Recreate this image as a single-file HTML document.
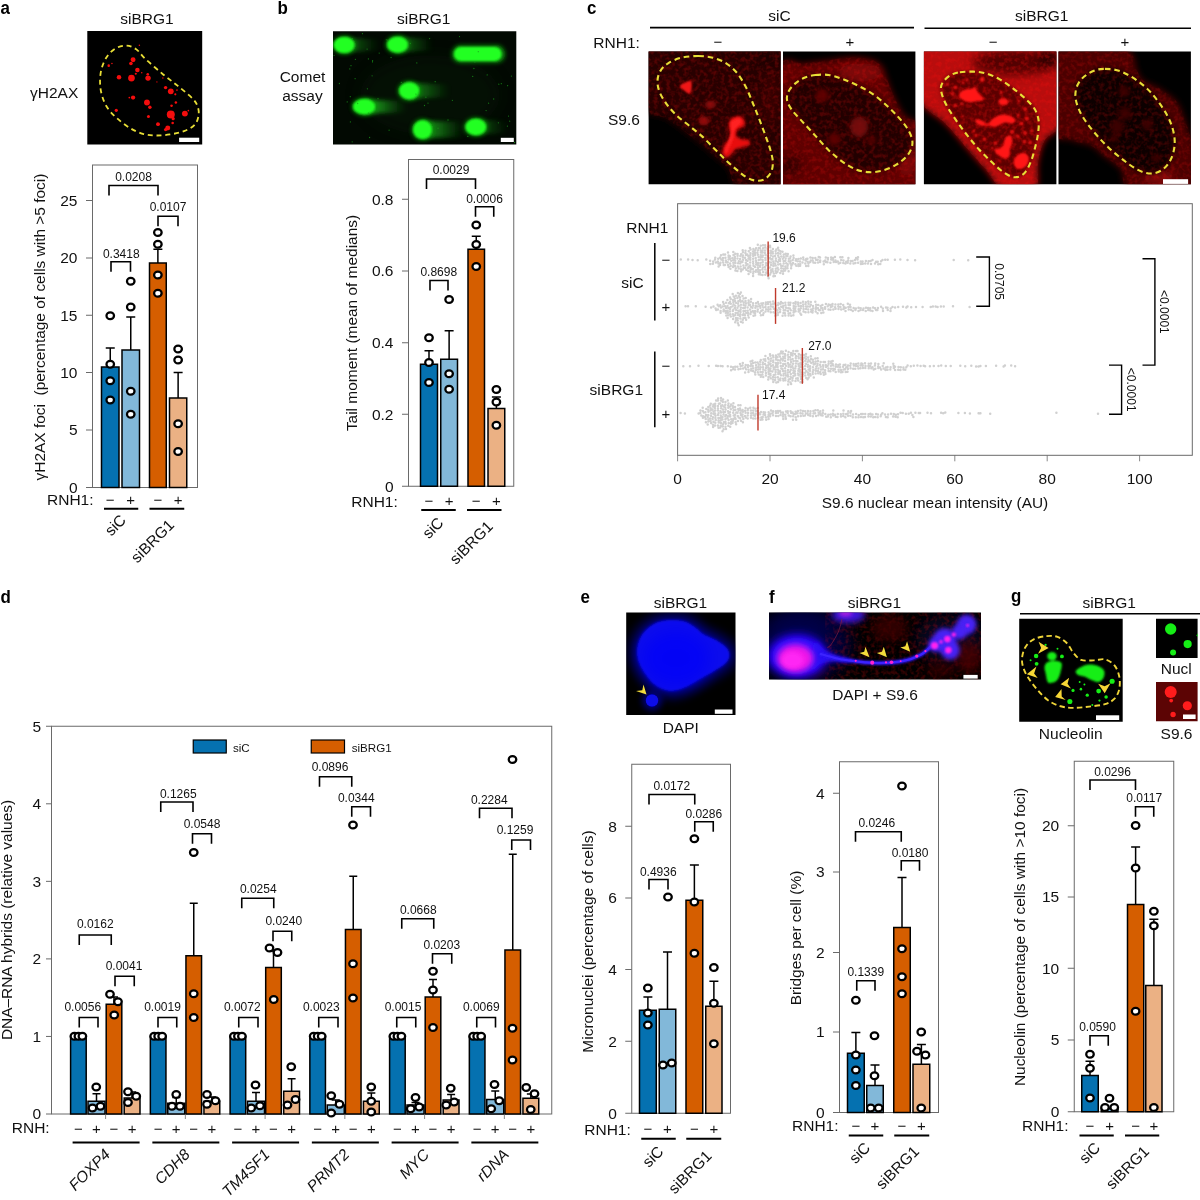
<!DOCTYPE html>
<html lang="en"><head><meta charset="utf-8"><title>Figure</title>
<style>
html,body{margin:0;padding:0;background:#fff}
svg{display:block}
text{font-family:"Liberation Sans",sans-serif;fill:#111}
.pl{font-weight:bold;fill:#000}
.it{font-style:italic}
.pts ellipse{fill:#fff;stroke:#000;stroke-width:2.3}
</style></head><body>
<svg width="1200" height="1200" viewBox="0 0 1200 1200">
<rect width="1200" height="1200" fill="#fff"/>
<text transform="translate(0.5 14) scale(0.9 1)" font-size="18.8" class="pl">a</text>
<text transform="translate(277.5 14) scale(0.9 1)" font-size="18.8" class="pl">b</text>
<text transform="translate(587 14) scale(0.9 1)" font-size="18.8" class="pl">c</text>
<text transform="translate(0.5 603) scale(0.9 1)" font-size="18.8" class="pl">d</text>
<text transform="translate(580.5 603) scale(0.9 1)" font-size="18.8" class="pl">e</text>
<text transform="translate(769 603) scale(0.9 1)" font-size="18.8" class="pl">f</text>
<text transform="translate(1011 601.5) scale(0.9 1)" font-size="18.8" class="pl">g</text>
<text x="147" y="24" font-size="15.5" text-anchor="middle">siBRG1</text>
<text x="30" y="97.5" font-size="15.5">γH2AX</text>
<rect x="92.5" y="165" width="105" height="322.5" fill="none" stroke="#6a6a6a" stroke-width="1"/>
<line x1="86" y1="487.5" x2="92.5" y2="487.5" stroke="#6a6a6a" stroke-width="1"/>
<text x="77.5" y="492.9" font-size="15.5" text-anchor="end">0</text>
<line x1="86" y1="430" x2="92.5" y2="430" stroke="#6a6a6a" stroke-width="1"/>
<text x="77.5" y="435.4" font-size="15.5" text-anchor="end">5</text>
<line x1="86" y1="372.5" x2="92.5" y2="372.5" stroke="#6a6a6a" stroke-width="1"/>
<text x="77.5" y="377.9" font-size="15.5" text-anchor="end">10</text>
<line x1="86" y1="315.25" x2="92.5" y2="315.25" stroke="#6a6a6a" stroke-width="1"/>
<text x="77.5" y="320.65" font-size="15.5" text-anchor="end">15</text>
<line x1="86" y1="258" x2="92.5" y2="258" stroke="#6a6a6a" stroke-width="1"/>
<text x="77.5" y="263.4" font-size="15.5" text-anchor="end">20</text>
<line x1="86" y1="200.5" x2="92.5" y2="200.5" stroke="#6a6a6a" stroke-width="1"/>
<text x="77.5" y="205.9" font-size="15.5" text-anchor="end">25</text>
<path d="M110.25 367V348M105.75 348H114.75" fill="none" stroke="#000" stroke-width="1.5"/>
<rect x="101.5" y="367" width="17.5" height="120.5" fill="#0571b0" stroke="#000" stroke-width="1.5"/>
<path d="M130.75 350V317M126.25 317H135.25" fill="none" stroke="#000" stroke-width="1.5"/>
<rect x="122" y="350" width="17.5" height="137.5" fill="#82b8d9" stroke="#000" stroke-width="1.5"/>
<path d="M157.88 263V249.25M153.38 249.25H162.38" fill="none" stroke="#000" stroke-width="1.5"/>
<rect x="149.5" y="263" width="16.75" height="224.5" fill="#d55e00" stroke="#000" stroke-width="1.5"/>
<path d="M178.12 398V372.5M173.62 372.5H182.62" fill="none" stroke="#000" stroke-width="1.5"/>
<rect x="169.5" y="398" width="17.25" height="89.5" fill="#ebb184" stroke="#000" stroke-width="1.5"/>
<g class="pts">
<ellipse cx="110.25" cy="315.75" rx="3.75" ry="3.45"/>
<ellipse cx="110.25" cy="364.25" rx="3.75" ry="3.45"/>
<ellipse cx="110.25" cy="380.75" rx="3.75" ry="3.45"/>
<ellipse cx="110.25" cy="400" rx="3.75" ry="3.45"/>
<ellipse cx="130.75" cy="281.25" rx="3.75" ry="3.45"/>
<ellipse cx="130.75" cy="307" rx="3.75" ry="3.45"/>
<ellipse cx="130.75" cy="391.25" rx="3.75" ry="3.45"/>
<ellipse cx="130.75" cy="414.25" rx="3.75" ry="3.45"/>
<ellipse cx="157.88" cy="232.5" rx="3.75" ry="3.45"/>
<ellipse cx="157.88" cy="244.25" rx="3.75" ry="3.45"/>
<ellipse cx="157.88" cy="275" rx="3.75" ry="3.45"/>
<ellipse cx="157.88" cy="293.25" rx="3.75" ry="3.45"/>
<ellipse cx="178.12" cy="349" rx="3.75" ry="3.45"/>
<ellipse cx="178.12" cy="360" rx="3.75" ry="3.45"/>
<ellipse cx="178.12" cy="423.75" rx="3.75" ry="3.45"/>
<ellipse cx="178.12" cy="451.5" rx="3.75" ry="3.45"/>
</g>
<path d="M109 195.5V185.5H158V195.5" fill="none" stroke="#000" stroke-width="1.6"/>
<text x="133.5" y="181" font-size="12" text-anchor="middle">0.0208</text>
<path d="M158 226.25V216.25H178V226.25" fill="none" stroke="#000" stroke-width="1.6"/>
<text x="168" y="210.5" font-size="12" text-anchor="middle">0.0107</text>
<path d="M111 271.75V261.75H130.5V271.75" fill="none" stroke="#000" stroke-width="1.6"/>
<text x="121.25" y="258" font-size="12" text-anchor="middle">0.3418</text>
<text x="47" y="505" font-size="15.5">RNH1:</text>
<text x="110.25" y="504.5" font-size="15" text-anchor="middle">−</text>
<text x="130.75" y="504.5" font-size="15" text-anchor="middle">+</text>
<text x="157.88" y="504.5" font-size="15" text-anchor="middle">−</text>
<text x="178.12" y="504.5" font-size="15" text-anchor="middle">+</text>
<line x1="104" y1="508.75" x2="138.25" y2="508.75" stroke="#000" stroke-width="2"/>
<line x1="149.5" y1="508.75" x2="184.25" y2="508.75" stroke="#000" stroke-width="2"/>
<text x="127" y="521" font-size="15.5" text-anchor="end" transform="rotate(-45 127 521)">siC</text>
<text x="175" y="526" font-size="15.5" text-anchor="end" transform="rotate(-45 175 526)">siBRG1</text>
<text x="45" y="327" font-size="15.45" text-anchor="middle" transform="rotate(-90 45 327)">γH2AX foci  (percentage of cells with &gt;5 foci)</text>
<text x="423.75" y="24" font-size="15.5" text-anchor="middle">siBRG1</text>
<text x="302.5" y="82" font-size="15.5" text-anchor="middle">Comet</text>
<text x="302.5" y="100.75" font-size="15.5" text-anchor="middle">assay</text>
<rect x="408.5" y="159.5" width="105.25" height="326.75" fill="none" stroke="#6a6a6a" stroke-width="1"/>
<line x1="402" y1="486.25" x2="408.5" y2="486.25" stroke="#6a6a6a" stroke-width="1"/>
<text x="393.5" y="491.65" font-size="15.5" text-anchor="end">0</text>
<line x1="402" y1="414.25" x2="408.5" y2="414.25" stroke="#6a6a6a" stroke-width="1"/>
<text x="393.5" y="419.65" font-size="15.5" text-anchor="end">0.2</text>
<line x1="402" y1="342.75" x2="408.5" y2="342.75" stroke="#6a6a6a" stroke-width="1"/>
<text x="393.5" y="348.15" font-size="15.5" text-anchor="end">0.4</text>
<line x1="402" y1="271" x2="408.5" y2="271" stroke="#6a6a6a" stroke-width="1"/>
<text x="393.5" y="276.4" font-size="15.5" text-anchor="end">0.6</text>
<line x1="402" y1="199.25" x2="408.5" y2="199.25" stroke="#6a6a6a" stroke-width="1"/>
<text x="393.5" y="204.65" font-size="15.5" text-anchor="end">0.8</text>
<path d="M429 364.25V350.75M424.5 350.75H433.5" fill="none" stroke="#000" stroke-width="1.5"/>
<rect x="420.5" y="364.25" width="17" height="122" fill="#0571b0" stroke="#000" stroke-width="1.5"/>
<path d="M449.12 359.25V330.75M444.62 330.75H453.62" fill="none" stroke="#000" stroke-width="1.5"/>
<rect x="440.75" y="359.25" width="16.75" height="127" fill="#82b8d9" stroke="#000" stroke-width="1.5"/>
<path d="M476.25 249.25V236.25M471.75 236.25H480.75" fill="none" stroke="#000" stroke-width="1.5"/>
<rect x="468" y="249.25" width="16.5" height="237" fill="#d55e00" stroke="#000" stroke-width="1.5"/>
<path d="M496.38 408.5V397M491.88 397H500.88" fill="none" stroke="#000" stroke-width="1.5"/>
<rect x="488" y="408.5" width="16.75" height="77.75" fill="#ebb184" stroke="#000" stroke-width="1.5"/>
<g class="pts">
<ellipse cx="429" cy="337.75" rx="3.75" ry="3.45"/>
<ellipse cx="429" cy="362.5" rx="3.75" ry="3.45"/>
<ellipse cx="429" cy="382.5" rx="3.75" ry="3.45"/>
<ellipse cx="449.12" cy="299.5" rx="3.75" ry="3.45"/>
<ellipse cx="449.12" cy="373.75" rx="3.75" ry="3.45"/>
<ellipse cx="449.12" cy="389.25" rx="3.75" ry="3.45"/>
<ellipse cx="476.25" cy="225" rx="3.75" ry="3.45"/>
<ellipse cx="476.25" cy="244.5" rx="3.75" ry="3.45"/>
<ellipse cx="476.25" cy="266.5" rx="3.75" ry="3.45"/>
<ellipse cx="496.38" cy="389.5" rx="3.75" ry="3.45"/>
<ellipse cx="496.38" cy="402" rx="3.75" ry="3.45"/>
<ellipse cx="496.38" cy="425.25" rx="3.75" ry="3.45"/>
</g>
<path d="M426.5 189V179H475.5V189" fill="none" stroke="#000" stroke-width="1.6"/>
<text x="451" y="174.25" font-size="12" text-anchor="middle">0.0029</text>
<path d="M475.5 216.75V206.75H493.75V216.75" fill="none" stroke="#000" stroke-width="1.6"/>
<text x="484.5" y="202.5" font-size="12" text-anchor="middle">0.0006</text>
<path d="M430 290.5V280.5H448V290.5" fill="none" stroke="#000" stroke-width="1.6"/>
<text x="438.75" y="275.5" font-size="12" text-anchor="middle">0.8698</text>
<text x="351.25" y="507" font-size="15.5">RNH1:</text>
<text x="429" y="506" font-size="15" text-anchor="middle">−</text>
<text x="449.12" y="506" font-size="15" text-anchor="middle">+</text>
<text x="476.25" y="506" font-size="15" text-anchor="middle">−</text>
<text x="496.38" y="506" font-size="15" text-anchor="middle">+</text>
<line x1="421.25" y1="510" x2="455.75" y2="510" stroke="#000" stroke-width="2"/>
<line x1="467" y1="510" x2="501.5" y2="510" stroke="#000" stroke-width="2"/>
<text x="444.5" y="523.75" font-size="15.5" text-anchor="end" transform="rotate(-45 444.5 523.75)">siC</text>
<text x="493.75" y="527.5" font-size="15.5" text-anchor="end" transform="rotate(-45 493.75 527.5)">siBRG1</text>
<text x="357" y="323" font-size="15.45" text-anchor="middle" transform="rotate(-90 357 323)">Tail moment (mean of medians)</text>
<text x="680.5" y="608" font-size="15.5" text-anchor="middle">siBRG1</text>
<text x="680.75" y="733" font-size="15.5" text-anchor="middle">DAPI</text>
<rect x="631.75" y="764.25" width="98.75" height="349" fill="none" stroke="#6a6a6a" stroke-width="1"/>
<line x1="625.25" y1="1113.25" x2="631.75" y2="1113.25" stroke="#6a6a6a" stroke-width="1"/>
<text x="616.75" y="1118.65" font-size="15.5" text-anchor="end">0</text>
<line x1="625.25" y1="1041.25" x2="631.75" y2="1041.25" stroke="#6a6a6a" stroke-width="1"/>
<text x="616.75" y="1046.65" font-size="15.5" text-anchor="end">2</text>
<line x1="625.25" y1="969.5" x2="631.75" y2="969.5" stroke="#6a6a6a" stroke-width="1"/>
<text x="616.75" y="974.9" font-size="15.5" text-anchor="end">4</text>
<line x1="625.25" y1="898" x2="631.75" y2="898" stroke="#6a6a6a" stroke-width="1"/>
<text x="616.75" y="903.4" font-size="15.5" text-anchor="end">6</text>
<line x1="625.25" y1="826.25" x2="631.75" y2="826.25" stroke="#6a6a6a" stroke-width="1"/>
<text x="616.75" y="831.65" font-size="15.5" text-anchor="end">8</text>
<path d="M647.88 1010.25V997M643.38 997H652.38" fill="none" stroke="#000" stroke-width="1.5"/>
<rect x="639.5" y="1010.25" width="16.75" height="103" fill="#0571b0" stroke="#000" stroke-width="1.5"/>
<path d="M667.5 1009.25V952M663 952H672" fill="none" stroke="#000" stroke-width="1.5"/>
<rect x="659.25" y="1009.25" width="16.5" height="104" fill="#82b8d9" stroke="#000" stroke-width="1.5"/>
<path d="M694.38 900.25V865M689.88 865H698.88" fill="none" stroke="#000" stroke-width="1.5"/>
<rect x="686" y="900.25" width="16.75" height="213" fill="#d55e00" stroke="#000" stroke-width="1.5"/>
<path d="M713.88 1006.25V981.25M709.38 981.25H718.38" fill="none" stroke="#000" stroke-width="1.5"/>
<rect x="705.75" y="1006.25" width="16.25" height="107" fill="#ebb184" stroke="#000" stroke-width="1.5"/>
<g class="pts">
<ellipse cx="647.88" cy="988" rx="3.75" ry="3.45"/>
<ellipse cx="647.88" cy="1013" rx="3.75" ry="3.45"/>
<ellipse cx="647.88" cy="1025" rx="3.75" ry="3.45"/>
<ellipse cx="668" cy="897" rx="3.75" ry="3.45"/>
<ellipse cx="663" cy="1065" rx="3.75" ry="3.45"/>
<ellipse cx="671.75" cy="1063" rx="3.75" ry="3.45"/>
<ellipse cx="694.38" cy="838.75" rx="3.75" ry="3.45"/>
<ellipse cx="694.38" cy="902" rx="3.75" ry="3.45"/>
<ellipse cx="694.38" cy="953.25" rx="3.75" ry="3.45"/>
<ellipse cx="713.88" cy="967.5" rx="3.75" ry="3.45"/>
<ellipse cx="713.88" cy="1003.25" rx="3.75" ry="3.45"/>
<ellipse cx="713.88" cy="1043.75" rx="3.75" ry="3.45"/>
</g>
<path d="M649 804.5V794.5H694.75V804.5" fill="none" stroke="#000" stroke-width="1.6"/>
<text x="671.75" y="790" font-size="12" text-anchor="middle">0.0172</text>
<path d="M694.75 831.75V821.75H713.25V831.75" fill="none" stroke="#000" stroke-width="1.6"/>
<text x="703.75" y="817.5" font-size="12" text-anchor="middle">0.0286</text>
<path d="M649 889.5V879.5H668V889.5" fill="none" stroke="#000" stroke-width="1.6"/>
<text x="658.25" y="875.5" font-size="12" text-anchor="middle">0.4936</text>
<text x="584.25" y="1135" font-size="15.5">RNH1:</text>
<text x="647.88" y="1134" font-size="15" text-anchor="middle">−</text>
<text x="667.5" y="1134" font-size="15" text-anchor="middle">+</text>
<text x="694.38" y="1134" font-size="15" text-anchor="middle">−</text>
<text x="713.88" y="1134" font-size="15" text-anchor="middle">+</text>
<line x1="641.25" y1="1138.75" x2="675.75" y2="1138.75" stroke="#000" stroke-width="2"/>
<line x1="686.25" y1="1138.75" x2="721.25" y2="1138.75" stroke="#000" stroke-width="2"/>
<text x="664.5" y="1152.5" font-size="15.5" text-anchor="end" transform="rotate(-45 664.5 1152.5)">siC</text>
<text x="712.5" y="1157" font-size="15.5" text-anchor="end" transform="rotate(-45 712.5 1157)">siBRG1</text>
<text x="592.5" y="941.5" font-size="15.45" text-anchor="middle" transform="rotate(-90 592.5 941.5)">Micronuclei (percentage of cells)</text>
<text x="874.5" y="608" font-size="15.5" text-anchor="middle">siBRG1</text>
<text x="875" y="699.5" font-size="15.5" text-anchor="middle">DAPI + S9.6</text>
<rect x="839.5" y="761.75" width="99" height="350.75" fill="none" stroke="#6a6a6a" stroke-width="1"/>
<line x1="833" y1="1112.5" x2="839.5" y2="1112.5" stroke="#6a6a6a" stroke-width="1"/>
<text x="824.5" y="1117.9" font-size="15.5" text-anchor="end">0</text>
<line x1="833" y1="1032" x2="839.5" y2="1032" stroke="#6a6a6a" stroke-width="1"/>
<text x="824.5" y="1037.4" font-size="15.5" text-anchor="end">1</text>
<line x1="833" y1="952.5" x2="839.5" y2="952.5" stroke="#6a6a6a" stroke-width="1"/>
<text x="824.5" y="957.9" font-size="15.5" text-anchor="end">2</text>
<line x1="833" y1="872" x2="839.5" y2="872" stroke="#6a6a6a" stroke-width="1"/>
<text x="824.5" y="877.4" font-size="15.5" text-anchor="end">3</text>
<line x1="833" y1="793.25" x2="839.5" y2="793.25" stroke="#6a6a6a" stroke-width="1"/>
<text x="824.5" y="798.65" font-size="15.5" text-anchor="end">4</text>
<path d="M855.88 1053.25V1032.5M851.38 1032.5H860.38" fill="none" stroke="#000" stroke-width="1.5"/>
<rect x="847.5" y="1053.25" width="16.75" height="59.25" fill="#0571b0" stroke="#000" stroke-width="1.5"/>
<path d="M875 1085.5V1065M870.5 1065H879.5" fill="none" stroke="#000" stroke-width="1.5"/>
<rect x="866.75" y="1085.5" width="16.5" height="27" fill="#82b8d9" stroke="#000" stroke-width="1.5"/>
<path d="M902 927.5V877.5M897.5 877.5H906.5" fill="none" stroke="#000" stroke-width="1.5"/>
<rect x="893.75" y="927.5" width="16.5" height="185" fill="#d55e00" stroke="#000" stroke-width="1.5"/>
<path d="M921.38 1064.25V1044.5M916.88 1044.5H925.88" fill="none" stroke="#000" stroke-width="1.5"/>
<rect x="913" y="1064.25" width="16.75" height="48.25" fill="#ebb184" stroke="#000" stroke-width="1.5"/>
<g class="pts">
<ellipse cx="855.88" cy="1000.25" rx="3.75" ry="3.45"/>
<ellipse cx="855.88" cy="1055" rx="3.75" ry="3.45"/>
<ellipse cx="855.88" cy="1070" rx="3.75" ry="3.45"/>
<ellipse cx="855.88" cy="1085.5" rx="3.75" ry="3.45"/>
<ellipse cx="874.5" cy="1035.75" rx="3.75" ry="3.45"/>
<ellipse cx="874.5" cy="1075.75" rx="3.75" ry="3.45"/>
<ellipse cx="870.75" cy="1108" rx="3.75" ry="3.45"/>
<ellipse cx="878.75" cy="1108" rx="3.75" ry="3.45"/>
<ellipse cx="902" cy="786" rx="3.75" ry="3.45"/>
<ellipse cx="902" cy="948.75" rx="3.75" ry="3.45"/>
<ellipse cx="902" cy="976.75" rx="3.75" ry="3.45"/>
<ellipse cx="902" cy="993.75" rx="3.75" ry="3.45"/>
<ellipse cx="921.25" cy="1032" rx="3.75" ry="3.45"/>
<ellipse cx="917" cy="1051.25" rx="3.75" ry="3.45"/>
<ellipse cx="925.5" cy="1055" rx="3.75" ry="3.45"/>
<ellipse cx="921.25" cy="1108" rx="3.75" ry="3.45"/>
</g>
<path d="M855.5 841.75V831.75H901.25V841.75" fill="none" stroke="#000" stroke-width="1.6"/>
<text x="876.75" y="827" font-size="12" text-anchor="middle">0.0246</text>
<path d="M901.25 870.75V860.75H919.5V870.75" fill="none" stroke="#000" stroke-width="1.6"/>
<text x="910" y="857" font-size="12" text-anchor="middle">0.0180</text>
<path d="M856.75 990.75V980.75H875V990.75" fill="none" stroke="#000" stroke-width="1.6"/>
<text x="865.75" y="976.25" font-size="12" text-anchor="middle">0.1339</text>
<text x="792" y="1131.25" font-size="15.5">RNH1:</text>
<text x="855.88" y="1130.5" font-size="15" text-anchor="middle">−</text>
<text x="875" y="1130.5" font-size="15" text-anchor="middle">+</text>
<text x="902" y="1130.5" font-size="15" text-anchor="middle">−</text>
<text x="921.38" y="1130.5" font-size="15" text-anchor="middle">+</text>
<line x1="848.75" y1="1135.5" x2="883.25" y2="1135.5" stroke="#000" stroke-width="2"/>
<line x1="894.25" y1="1135.5" x2="929.25" y2="1135.5" stroke="#000" stroke-width="2"/>
<text x="871.25" y="1148.75" font-size="15.5" text-anchor="end" transform="rotate(-45 871.25 1148.75)">siC</text>
<text x="920" y="1152.5" font-size="15.5" text-anchor="end" transform="rotate(-45 920 1152.5)">siBRG1</text>
<text x="801.25" y="938" font-size="15.45" text-anchor="middle" transform="rotate(-90 801.25 938)">Bridges per cell (%)</text>
<text x="1109.25" y="608" font-size="15.5" text-anchor="middle">siBRG1</text>
<line x1="1020" y1="613.75" x2="1200" y2="613.75" stroke="#000" stroke-width="1.6"/>
<text x="1070.75" y="739.25" font-size="15.5" text-anchor="middle">Nucleolin</text>
<text x="1176.25" y="673.75" font-size="15.5" text-anchor="middle">Nucl</text>
<text x="1176.5" y="739.25" font-size="15.5" text-anchor="middle">S9.6</text>
<rect x="1074.25" y="761.25" width="99.5" height="350.5" fill="none" stroke="#6a6a6a" stroke-width="1"/>
<line x1="1067.75" y1="1111.75" x2="1074.25" y2="1111.75" stroke="#6a6a6a" stroke-width="1"/>
<text x="1059.25" y="1117.15" font-size="15.5" text-anchor="end">0</text>
<line x1="1067.75" y1="1040" x2="1074.25" y2="1040" stroke="#6a6a6a" stroke-width="1"/>
<text x="1059.25" y="1045.4" font-size="15.5" text-anchor="end">5</text>
<line x1="1067.75" y1="968.25" x2="1074.25" y2="968.25" stroke="#6a6a6a" stroke-width="1"/>
<text x="1059.25" y="973.65" font-size="15.5" text-anchor="end">10</text>
<line x1="1067.75" y1="897" x2="1074.25" y2="897" stroke="#6a6a6a" stroke-width="1"/>
<text x="1059.25" y="902.4" font-size="15.5" text-anchor="end">15</text>
<line x1="1067.75" y1="825.75" x2="1074.25" y2="825.75" stroke="#6a6a6a" stroke-width="1"/>
<text x="1059.25" y="831.15" font-size="15.5" text-anchor="end">20</text>
<path d="M1090 1075.5V1061.25M1085.5 1061.25H1094.5" fill="none" stroke="#000" stroke-width="1.5"/>
<rect x="1081.75" y="1075.5" width="16.5" height="36.25" fill="#0571b0" stroke="#000" stroke-width="1.5"/>
<rect x="1101.25" y="1108.75" width="16.75" height="3" fill="#82b8d9" stroke="#000" stroke-width="1.5"/>
<path d="M1135.62 904.5V847M1131.12 847H1140.12" fill="none" stroke="#000" stroke-width="1.5"/>
<rect x="1127.5" y="904.5" width="16.25" height="207.25" fill="#d55e00" stroke="#000" stroke-width="1.5"/>
<path d="M1153.88 985.5V919.25M1149.38 919.25H1158.38" fill="none" stroke="#000" stroke-width="1.5"/>
<rect x="1145.75" y="985.5" width="16.25" height="126.25" fill="#ebb184" stroke="#000" stroke-width="1.5"/>
<g class="pts">
<ellipse cx="1090" cy="1054.25" rx="3.75" ry="3.45"/>
<ellipse cx="1090" cy="1068.25" rx="3.75" ry="3.45"/>
<ellipse cx="1090" cy="1098" rx="3.75" ry="3.45"/>
<ellipse cx="1109.5" cy="1098.25" rx="3.75" ry="3.45"/>
<ellipse cx="1105" cy="1107.5" rx="3.75" ry="3.45"/>
<ellipse cx="1114.25" cy="1107.5" rx="3.75" ry="3.45"/>
<ellipse cx="1135.62" cy="825.5" rx="3.75" ry="3.45"/>
<ellipse cx="1135.62" cy="868" rx="3.75" ry="3.45"/>
<ellipse cx="1135.62" cy="1011.25" rx="3.75" ry="3.45"/>
<ellipse cx="1153.88" cy="911.25" rx="3.75" ry="3.45"/>
<ellipse cx="1153.88" cy="925.75" rx="3.75" ry="3.45"/>
<ellipse cx="1153.88" cy="1107.5" rx="3.75" ry="3.45"/>
</g>
<path d="M1090 790V780H1135.5V790" fill="none" stroke="#000" stroke-width="1.6"/>
<text x="1112.5" y="775.5" font-size="12" text-anchor="middle">0.0296</text>
<path d="M1135.5 816.75V806.75H1153.75V816.75" fill="none" stroke="#000" stroke-width="1.6"/>
<text x="1144.25" y="802" font-size="12" text-anchor="middle">0.0117</text>
<path d="M1090 1045.75V1035.75H1108.25V1045.75" fill="none" stroke="#000" stroke-width="1.6"/>
<text x="1097.5" y="1031.25" font-size="12" text-anchor="middle">0.0590</text>
<text x="1022" y="1131.25" font-size="15.5">RNH1:</text>
<text x="1090" y="1130.5" font-size="15" text-anchor="middle">−</text>
<text x="1109.62" y="1130.5" font-size="15" text-anchor="middle">+</text>
<text x="1135.62" y="1130.5" font-size="15" text-anchor="middle">−</text>
<text x="1153.88" y="1130.5" font-size="15" text-anchor="middle">+</text>
<line x1="1079.5" y1="1135.5" x2="1113.75" y2="1135.5" stroke="#000" stroke-width="2"/>
<line x1="1125" y1="1135.5" x2="1159.25" y2="1135.5" stroke="#000" stroke-width="2"/>
<text x="1101.25" y="1148.75" font-size="15.5" text-anchor="end" transform="rotate(-45 1101.25 1148.75)">siC</text>
<text x="1150" y="1152.5" font-size="15.5" text-anchor="end" transform="rotate(-45 1150 1152.5)">siBRG1</text>
<text x="1025" y="937" font-size="15.45" text-anchor="middle" transform="rotate(-90 1025 937)">Nucleolin (percentage of cells with &gt;10 foci)</text>
<rect x="51.5" y="726.25" width="500.25" height="387.75" fill="none" stroke="#6a6a6a" stroke-width="1"/>
<line x1="46" y1="1114" x2="51.5" y2="1114" stroke="#6a6a6a" stroke-width="1"/>
<text x="41" y="1119.4" font-size="15.5" text-anchor="end">0</text>
<line x1="46" y1="1036.45" x2="51.5" y2="1036.45" stroke="#6a6a6a" stroke-width="1"/>
<text x="41" y="1041.85" font-size="15.5" text-anchor="end">1</text>
<line x1="46" y1="958.9" x2="51.5" y2="958.9" stroke="#6a6a6a" stroke-width="1"/>
<text x="41" y="964.3" font-size="15.5" text-anchor="end">2</text>
<line x1="46" y1="881.35" x2="51.5" y2="881.35" stroke="#6a6a6a" stroke-width="1"/>
<text x="41" y="886.75" font-size="15.5" text-anchor="end">3</text>
<line x1="46" y1="803.8" x2="51.5" y2="803.8" stroke="#6a6a6a" stroke-width="1"/>
<text x="41" y="809.2" font-size="15.5" text-anchor="end">4</text>
<line x1="46" y1="726.25" x2="51.5" y2="726.25" stroke="#6a6a6a" stroke-width="1"/>
<text x="41" y="731.65" font-size="15.5" text-anchor="end">5</text>
<text x="12" y="920" font-size="15.45" text-anchor="middle" transform="rotate(-90 12 920)">DNA–RNA hybrids (relative values)</text>
<rect x="193.25" y="740" width="33" height="13" fill="#0571b0" stroke="#000" stroke-width="1.2"/>
<text x="233" y="751.5" font-size="11.6">siC</text>
<rect x="311.25" y="740" width="33.25" height="13" fill="#d55e00" stroke="#000" stroke-width="1.2"/>
<text x="351.75" y="751.5" font-size="11.6">siBRG1</text>
<text x="11.75" y="1133.25" font-size="15.5">RNH:</text>
<rect x="70.6" y="1036.25" width="15.6" height="77.75" fill="#0571b0" stroke="#000" stroke-width="1.5"/>
<path d="M96.5 1101.25V1093.75M92.5 1093.75H100.5" fill="none" stroke="#000" stroke-width="1.5"/>
<rect x="88" y="1101.25" width="17" height="12.75" fill="#82b8d9" stroke="#000" stroke-width="1.5"/>
<path d="M114 1004.25V997M110 997H118" fill="none" stroke="#000" stroke-width="1.5"/>
<rect x="106.2" y="1004.25" width="15.6" height="109.75" fill="#d55e00" stroke="#000" stroke-width="1.5"/>
<path d="M132.1 1098V1092M128.1 1092H136.1" fill="none" stroke="#000" stroke-width="1.5"/>
<rect x="124.2" y="1098" width="15.8" height="16" fill="#ebb184" stroke="#000" stroke-width="1.5"/>
<line x1="105.6" y1="1114" x2="105.6" y2="1119" stroke="#6a6a6a" stroke-width="0.8"/>
<g class="pts">
<ellipse cx="74.4" cy="1036.25" rx="3.75" ry="3.45"/>
<ellipse cx="78.4" cy="1036.25" rx="3.75" ry="3.45"/>
<ellipse cx="82.4" cy="1036.25" rx="3.75" ry="3.45"/>
<ellipse cx="96.25" cy="1087" rx="3.75" ry="3.45"/>
<ellipse cx="92.5" cy="1108" rx="3.75" ry="3.45"/>
<ellipse cx="100.5" cy="1106.25" rx="3.75" ry="3.45"/>
<ellipse cx="110" cy="994.25" rx="3.75" ry="3.45"/>
<ellipse cx="118" cy="1001.75" rx="3.75" ry="3.45"/>
<ellipse cx="114.25" cy="1015" rx="3.75" ry="3.45"/>
<ellipse cx="128" cy="1091.75" rx="3.75" ry="3.45"/>
<ellipse cx="136.25" cy="1096.25" rx="3.75" ry="3.45"/>
<ellipse cx="128" cy="1102.5" rx="3.75" ry="3.45"/>
</g>
<path d="M79.25 1027.5V1017.5H98V1027.5" fill="none" stroke="#000" stroke-width="1.6"/>
<text x="82.75" y="1010.5" font-size="12" text-anchor="middle">0.0056</text>
<path d="M79.25 945V935H111.25V945" fill="none" stroke="#000" stroke-width="1.6"/>
<text x="95.25" y="928" font-size="12" text-anchor="middle">0.0162</text>
<path d="M115 986.25V976.25H134.25V986.25" fill="none" stroke="#000" stroke-width="1.6"/>
<text x="124" y="970" font-size="12" text-anchor="middle">0.0041</text>
<text x="78.4" y="1134.2" font-size="15" text-anchor="middle">−</text>
<text x="96.5" y="1134.2" font-size="15" text-anchor="middle">+</text>
<text x="114" y="1134.2" font-size="15" text-anchor="middle">−</text>
<text x="132.1" y="1134.2" font-size="15" text-anchor="middle">+</text>
<line x1="72.6" y1="1142.5" x2="139.6" y2="1142.5" stroke="#000" stroke-width="2"/>
<text x="111.1" y="1155.5" font-size="15.5" text-anchor="end" transform="rotate(-45 111.1 1155.5)" class="it">FOXP4</text>
<rect x="150.35" y="1036.25" width="15.6" height="77.75" fill="#0571b0" stroke="#000" stroke-width="1.5"/>
<path d="M176.25 1103.25V1097.5M172.25 1097.5H180.25" fill="none" stroke="#000" stroke-width="1.5"/>
<rect x="167.75" y="1103.25" width="17" height="10.75" fill="#82b8d9" stroke="#000" stroke-width="1.5"/>
<path d="M193.75 955.75V903.25M189.75 903.25H197.75" fill="none" stroke="#000" stroke-width="1.5"/>
<rect x="185.95" y="955.75" width="15.6" height="158.25" fill="#d55e00" stroke="#000" stroke-width="1.5"/>
<path d="M211.85 1101.25V1097M207.85 1097H215.85" fill="none" stroke="#000" stroke-width="1.5"/>
<rect x="203.95" y="1101.25" width="15.8" height="12.75" fill="#ebb184" stroke="#000" stroke-width="1.5"/>
<line x1="185.35" y1="1114" x2="185.35" y2="1119" stroke="#6a6a6a" stroke-width="0.8"/>
<g class="pts">
<ellipse cx="154.15" cy="1036.25" rx="3.75" ry="3.45"/>
<ellipse cx="158.15" cy="1036.25" rx="3.75" ry="3.45"/>
<ellipse cx="162.15" cy="1036.25" rx="3.75" ry="3.45"/>
<ellipse cx="176.25" cy="1094.5" rx="3.75" ry="3.45"/>
<ellipse cx="172" cy="1106.25" rx="3.75" ry="3.45"/>
<ellipse cx="180" cy="1106.25" rx="3.75" ry="3.45"/>
<ellipse cx="193.75" cy="852.5" rx="3.75" ry="3.45"/>
<ellipse cx="193.75" cy="993.75" rx="3.75" ry="3.45"/>
<ellipse cx="193.75" cy="1017.5" rx="3.75" ry="3.45"/>
<ellipse cx="207" cy="1094.5" rx="3.75" ry="3.45"/>
<ellipse cx="215.5" cy="1100.75" rx="3.75" ry="3.45"/>
<ellipse cx="207" cy="1104.25" rx="3.75" ry="3.45"/>
</g>
<path d="M158 1027.5V1017.5H176.75V1027.5" fill="none" stroke="#000" stroke-width="1.6"/>
<text x="162.5" y="1010.5" font-size="12" text-anchor="middle">0.0019</text>
<path d="M160.75 812V802H193V812" fill="none" stroke="#000" stroke-width="1.6"/>
<text x="178.25" y="798" font-size="12" text-anchor="middle">0.1265</text>
<path d="M192.5 843.75V833.75H211.5V843.75" fill="none" stroke="#000" stroke-width="1.6"/>
<text x="202" y="827.5" font-size="12" text-anchor="middle">0.0548</text>
<text x="158.15" y="1134.2" font-size="15" text-anchor="middle">−</text>
<text x="176.25" y="1134.2" font-size="15" text-anchor="middle">+</text>
<text x="193.75" y="1134.2" font-size="15" text-anchor="middle">−</text>
<text x="211.85" y="1134.2" font-size="15" text-anchor="middle">+</text>
<line x1="152.35" y1="1142.5" x2="219.35" y2="1142.5" stroke="#000" stroke-width="2"/>
<text x="190.85" y="1155.5" font-size="15.5" text-anchor="end" transform="rotate(-45 190.85 1155.5)" class="it">CDH8</text>
<rect x="230.1" y="1036.25" width="15.6" height="77.75" fill="#0571b0" stroke="#000" stroke-width="1.5"/>
<path d="M256 1101.25V1092.5M252 1092.5H260" fill="none" stroke="#000" stroke-width="1.5"/>
<rect x="247.5" y="1101.25" width="17" height="12.75" fill="#82b8d9" stroke="#000" stroke-width="1.5"/>
<path d="M273.5 967.5V951M269.5 951H277.5" fill="none" stroke="#000" stroke-width="1.5"/>
<rect x="265.7" y="967.5" width="15.6" height="146.5" fill="#d55e00" stroke="#000" stroke-width="1.5"/>
<path d="M291.6 1091.25V1078.75M287.6 1078.75H295.6" fill="none" stroke="#000" stroke-width="1.5"/>
<rect x="283.7" y="1091.25" width="15.8" height="22.75" fill="#ebb184" stroke="#000" stroke-width="1.5"/>
<line x1="265.1" y1="1114" x2="265.1" y2="1119" stroke="#6a6a6a" stroke-width="0.8"/>
<g class="pts">
<ellipse cx="233.9" cy="1036.25" rx="3.75" ry="3.45"/>
<ellipse cx="237.9" cy="1036.25" rx="3.75" ry="3.45"/>
<ellipse cx="241.9" cy="1036.25" rx="3.75" ry="3.45"/>
<ellipse cx="255.5" cy="1085" rx="3.75" ry="3.45"/>
<ellipse cx="251.25" cy="1108" rx="3.75" ry="3.45"/>
<ellipse cx="260" cy="1105.75" rx="3.75" ry="3.45"/>
<ellipse cx="269.5" cy="948" rx="3.75" ry="3.45"/>
<ellipse cx="277.5" cy="952.5" rx="3.75" ry="3.45"/>
<ellipse cx="273.75" cy="999.5" rx="3.75" ry="3.45"/>
<ellipse cx="291.25" cy="1066.75" rx="3.75" ry="3.45"/>
<ellipse cx="287.5" cy="1105" rx="3.75" ry="3.45"/>
<ellipse cx="295.5" cy="1099.5" rx="3.75" ry="3.45"/>
</g>
<path d="M238.75 1027.5V1017.5H258V1027.5" fill="none" stroke="#000" stroke-width="1.6"/>
<text x="242.25" y="1010.5" font-size="12" text-anchor="middle">0.0072</text>
<path d="M241.75 908.25V898.25H273.75V908.25" fill="none" stroke="#000" stroke-width="1.6"/>
<text x="258.25" y="892.5" font-size="12" text-anchor="middle">0.0254</text>
<path d="M273 941.25V931.25H291.75V941.25" fill="none" stroke="#000" stroke-width="1.6"/>
<text x="283.75" y="925" font-size="12" text-anchor="middle">0.0240</text>
<text x="237.9" y="1134.2" font-size="15" text-anchor="middle">−</text>
<text x="256" y="1134.2" font-size="15" text-anchor="middle">+</text>
<text x="273.5" y="1134.2" font-size="15" text-anchor="middle">−</text>
<text x="291.6" y="1134.2" font-size="15" text-anchor="middle">+</text>
<line x1="232.1" y1="1142.5" x2="299.1" y2="1142.5" stroke="#000" stroke-width="2"/>
<text x="270.6" y="1155.5" font-size="15.5" text-anchor="end" transform="rotate(-45 270.6 1155.5)" class="it">TM4SF1</text>
<rect x="309.85" y="1036.25" width="15.6" height="77.75" fill="#0571b0" stroke="#000" stroke-width="1.5"/>
<path d="M335.75 1105V1100M331.75 1100H339.75" fill="none" stroke="#000" stroke-width="1.5"/>
<rect x="327.25" y="1105" width="17" height="9" fill="#82b8d9" stroke="#000" stroke-width="1.5"/>
<path d="M353.25 929.5V876.25M349.25 876.25H357.25" fill="none" stroke="#000" stroke-width="1.5"/>
<rect x="345.45" y="929.5" width="15.6" height="184.5" fill="#d55e00" stroke="#000" stroke-width="1.5"/>
<path d="M371.35 1101.25V1093M367.35 1093H375.35" fill="none" stroke="#000" stroke-width="1.5"/>
<rect x="363.45" y="1101.25" width="15.8" height="12.75" fill="#ebb184" stroke="#000" stroke-width="1.5"/>
<line x1="344.85" y1="1114" x2="344.85" y2="1119" stroke="#6a6a6a" stroke-width="0.8"/>
<g class="pts">
<ellipse cx="313.65" cy="1036.25" rx="3.75" ry="3.45"/>
<ellipse cx="317.65" cy="1036.25" rx="3.75" ry="3.45"/>
<ellipse cx="321.65" cy="1036.25" rx="3.75" ry="3.45"/>
<ellipse cx="331.25" cy="1095.75" rx="3.75" ry="3.45"/>
<ellipse cx="339.5" cy="1104.25" rx="3.75" ry="3.45"/>
<ellipse cx="331.25" cy="1113" rx="3.75" ry="3.45"/>
<ellipse cx="353" cy="825" rx="3.75" ry="3.45"/>
<ellipse cx="353" cy="963.75" rx="3.75" ry="3.45"/>
<ellipse cx="353" cy="998" rx="3.75" ry="3.45"/>
<ellipse cx="371.25" cy="1087" rx="3.75" ry="3.45"/>
<ellipse cx="371.25" cy="1101.25" rx="3.75" ry="3.45"/>
<ellipse cx="371.25" cy="1112" rx="3.75" ry="3.45"/>
</g>
<path d="M318.75 1027.5V1017.5H338V1027.5" fill="none" stroke="#000" stroke-width="1.6"/>
<text x="321.25" y="1010.5" font-size="12" text-anchor="middle">0.0023</text>
<path d="M319.5 786.75V776.75H351.75V786.75" fill="none" stroke="#000" stroke-width="1.6"/>
<text x="330" y="771.25" font-size="12" text-anchor="middle">0.0896</text>
<path d="M351.75 816.75V806.75H370.5V816.75" fill="none" stroke="#000" stroke-width="1.6"/>
<text x="356.25" y="801.75" font-size="12" text-anchor="middle">0.0344</text>
<text x="317.65" y="1134.2" font-size="15" text-anchor="middle">−</text>
<text x="335.75" y="1134.2" font-size="15" text-anchor="middle">+</text>
<text x="353.25" y="1134.2" font-size="15" text-anchor="middle">−</text>
<text x="371.35" y="1134.2" font-size="15" text-anchor="middle">+</text>
<line x1="311.85" y1="1142.5" x2="378.85" y2="1142.5" stroke="#000" stroke-width="2"/>
<text x="350.35" y="1155.5" font-size="15.5" text-anchor="end" transform="rotate(-45 350.35 1155.5)" class="it">PRMT2</text>
<rect x="389.6" y="1036.25" width="15.6" height="77.75" fill="#0571b0" stroke="#000" stroke-width="1.5"/>
<path d="M415.5 1105V1102.5M411.5 1102.5H419.5" fill="none" stroke="#000" stroke-width="1.5"/>
<rect x="407" y="1105" width="17" height="9" fill="#82b8d9" stroke="#000" stroke-width="1.5"/>
<path d="M433 997V979.5M429 979.5H437" fill="none" stroke="#000" stroke-width="1.5"/>
<rect x="425.2" y="997" width="15.6" height="117" fill="#d55e00" stroke="#000" stroke-width="1.5"/>
<path d="M451.1 1100V1094.5M447.1 1094.5H455.1" fill="none" stroke="#000" stroke-width="1.5"/>
<rect x="443.2" y="1100" width="15.8" height="14" fill="#ebb184" stroke="#000" stroke-width="1.5"/>
<line x1="424.6" y1="1114" x2="424.6" y2="1119" stroke="#6a6a6a" stroke-width="0.8"/>
<g class="pts">
<ellipse cx="393.4" cy="1036.25" rx="3.75" ry="3.45"/>
<ellipse cx="397.4" cy="1036.25" rx="3.75" ry="3.45"/>
<ellipse cx="401.4" cy="1036.25" rx="3.75" ry="3.45"/>
<ellipse cx="415.5" cy="1097.5" rx="3.75" ry="3.45"/>
<ellipse cx="410.75" cy="1108.75" rx="3.75" ry="3.45"/>
<ellipse cx="419.25" cy="1107" rx="3.75" ry="3.45"/>
<ellipse cx="433" cy="971.25" rx="3.75" ry="3.45"/>
<ellipse cx="433" cy="990" rx="3.75" ry="3.45"/>
<ellipse cx="433" cy="1027.5" rx="3.75" ry="3.45"/>
<ellipse cx="450.75" cy="1088.25" rx="3.75" ry="3.45"/>
<ellipse cx="446.25" cy="1105" rx="3.75" ry="3.45"/>
<ellipse cx="454.25" cy="1102" rx="3.75" ry="3.45"/>
</g>
<path d="M396.75 1027.5V1017.5H415.75V1027.5" fill="none" stroke="#000" stroke-width="1.6"/>
<text x="403" y="1010.5" font-size="12" text-anchor="middle">0.0015</text>
<path d="M401.75 928.75V918.75H433.75V928.75" fill="none" stroke="#000" stroke-width="1.6"/>
<text x="418.25" y="913.75" font-size="12" text-anchor="middle">0.0668</text>
<path d="M432.5 963.75V953.75H451.75V963.75" fill="none" stroke="#000" stroke-width="1.6"/>
<text x="441.75" y="948.75" font-size="12" text-anchor="middle">0.0203</text>
<text x="397.4" y="1134.2" font-size="15" text-anchor="middle">−</text>
<text x="415.5" y="1134.2" font-size="15" text-anchor="middle">+</text>
<text x="433" y="1134.2" font-size="15" text-anchor="middle">−</text>
<text x="451.1" y="1134.2" font-size="15" text-anchor="middle">+</text>
<line x1="391.6" y1="1142.5" x2="458.6" y2="1142.5" stroke="#000" stroke-width="2"/>
<text x="430.1" y="1155.5" font-size="15.5" text-anchor="end" transform="rotate(-45 430.1 1155.5)" class="it">MYC</text>
<rect x="469.35" y="1036.25" width="15.6" height="77.75" fill="#0571b0" stroke="#000" stroke-width="1.5"/>
<path d="M495.25 1099.5V1091M491.25 1091H499.25" fill="none" stroke="#000" stroke-width="1.5"/>
<rect x="486.75" y="1099.5" width="17" height="14.5" fill="#82b8d9" stroke="#000" stroke-width="1.5"/>
<path d="M512.75 950V854.25M508.75 854.25H516.75" fill="none" stroke="#000" stroke-width="1.5"/>
<rect x="504.95" y="950" width="15.6" height="164" fill="#d55e00" stroke="#000" stroke-width="1.5"/>
<path d="M530.85 1098.25V1094M526.85 1094H534.85" fill="none" stroke="#000" stroke-width="1.5"/>
<rect x="522.95" y="1098.25" width="15.8" height="15.75" fill="#ebb184" stroke="#000" stroke-width="1.5"/>
<line x1="504.35" y1="1114" x2="504.35" y2="1119" stroke="#6a6a6a" stroke-width="0.8"/>
<g class="pts">
<ellipse cx="473.15" cy="1036.25" rx="3.75" ry="3.45"/>
<ellipse cx="477.15" cy="1036.25" rx="3.75" ry="3.45"/>
<ellipse cx="481.15" cy="1036.25" rx="3.75" ry="3.45"/>
<ellipse cx="494.5" cy="1084.5" rx="3.75" ry="3.45"/>
<ellipse cx="491.25" cy="1108.75" rx="3.75" ry="3.45"/>
<ellipse cx="499.25" cy="1100.75" rx="3.75" ry="3.45"/>
<ellipse cx="512.5" cy="759.5" rx="3.75" ry="3.45"/>
<ellipse cx="512.5" cy="1028.25" rx="3.75" ry="3.45"/>
<ellipse cx="512.5" cy="1060" rx="3.75" ry="3.45"/>
<ellipse cx="526.25" cy="1087.5" rx="3.75" ry="3.45"/>
<ellipse cx="534.5" cy="1093.75" rx="3.75" ry="3.45"/>
<ellipse cx="530.75" cy="1109.5" rx="3.75" ry="3.45"/>
</g>
<path d="M476.75 1027.5V1017.5H495.5V1027.5" fill="none" stroke="#000" stroke-width="1.6"/>
<text x="481.25" y="1010.5" font-size="12" text-anchor="middle">0.0069</text>
<path d="M479.5 818.25V808.25H512V818.25" fill="none" stroke="#000" stroke-width="1.6"/>
<text x="489.25" y="803.75" font-size="12" text-anchor="middle">0.2284</text>
<path d="M511.75 850V840H530.5V850" fill="none" stroke="#000" stroke-width="1.6"/>
<text x="515" y="833.75" font-size="12" text-anchor="middle">0.1259</text>
<text x="477.15" y="1134.2" font-size="15" text-anchor="middle">−</text>
<text x="495.25" y="1134.2" font-size="15" text-anchor="middle">+</text>
<text x="512.75" y="1134.2" font-size="15" text-anchor="middle">−</text>
<text x="530.85" y="1134.2" font-size="15" text-anchor="middle">+</text>
<line x1="471.35" y1="1142.5" x2="538.35" y2="1142.5" stroke="#000" stroke-width="2"/>
<text x="509.85" y="1155.5" font-size="15.5" text-anchor="end" transform="rotate(-45 509.85 1155.5)" class="it">rDNA</text>
<text x="779.5" y="20.8" font-size="15.5" text-anchor="middle">siC</text>
<line x1="650" y1="27.6" x2="914" y2="27.6" stroke="#000" stroke-width="1.6"/>
<text x="1041.75" y="20.6" font-size="15.5" text-anchor="middle">siBRG1</text>
<line x1="924.5" y1="28.2" x2="1191" y2="28.2" stroke="#000" stroke-width="1.6"/>
<text x="593.3" y="47.5" font-size="15.5">RNH1:</text>
<text x="717.9" y="47.3" font-size="15" text-anchor="middle">−</text>
<text x="849.9" y="47.3" font-size="15" text-anchor="middle">+</text>
<text x="993.25" y="47.3" font-size="15" text-anchor="middle">−</text>
<text x="1125" y="47.3" font-size="15" text-anchor="middle">+</text>
<text x="608" y="124.8" font-size="15.5">S9.6</text>
<rect x="677.6" y="203.7" width="514.7" height="251.6" fill="none" stroke="#6a6a6a" stroke-width="1"/>
<line x1="677.6" y1="455.3" x2="677.6" y2="461.3" stroke="#6a6a6a" stroke-width="0.8"/>
<text x="677.6" y="483.6" font-size="15.5" text-anchor="middle">0</text>
<line x1="770" y1="455.3" x2="770" y2="461.3" stroke="#6a6a6a" stroke-width="0.8"/>
<text x="770" y="483.6" font-size="15.5" text-anchor="middle">20</text>
<line x1="862.4" y1="455.3" x2="862.4" y2="461.3" stroke="#6a6a6a" stroke-width="0.8"/>
<text x="862.4" y="483.6" font-size="15.5" text-anchor="middle">40</text>
<line x1="954.8" y1="455.3" x2="954.8" y2="461.3" stroke="#6a6a6a" stroke-width="0.8"/>
<text x="954.8" y="483.6" font-size="15.5" text-anchor="middle">60</text>
<line x1="1047.2" y1="455.3" x2="1047.2" y2="461.3" stroke="#6a6a6a" stroke-width="0.8"/>
<text x="1047.2" y="483.6" font-size="15.5" text-anchor="middle">80</text>
<line x1="1139.6" y1="455.3" x2="1139.6" y2="461.3" stroke="#6a6a6a" stroke-width="0.8"/>
<text x="1139.6" y="483.6" font-size="15.5" text-anchor="middle">100</text>
<text x="935" y="507.5" font-size="15.45" text-anchor="middle">S9.6 nuclear mean intensity (AU)</text>
<text x="626.2" y="232.6" font-size="15.5">RNH1</text>
<text x="621.2" y="288" font-size="15.5">siC</text>
<text x="589.6" y="394.8" font-size="15.5">siBRG1</text>
<line x1="654.8" y1="243" x2="654.8" y2="320.6" stroke="#000" stroke-width="1.5"/>
<line x1="654.8" y1="351.4" x2="654.8" y2="427.3" stroke="#000" stroke-width="1.5"/>
<text x="665.8" y="265.3" font-size="15" text-anchor="middle">−</text>
<text x="665.8" y="312.1" font-size="15" text-anchor="middle">+</text>
<text x="665.8" y="371.3" font-size="15" text-anchor="middle">−</text>
<text x="665.8" y="418.5" font-size="15" text-anchor="middle">+</text>
<path d="M680.8 259.5h0M688.1 259.4h0M692.5 259.9h0M697.7 260.2h0M706.3 259.5h0M710.1 260.8h0M710.3 264.1h0M713.2 261.4h0M712.9 263.7h0M715.0 259.6h0M715.9 262.4h0M715.3 257.7h0M717.8 261.6h0M718.4 263.4h0M718.2 258.8h0M718.6 266.4h0M721.3 259.5h0M720.5 262.8h0M720.1 257.5h0M720.0 265.1h0M721.0 255.2h0M722.8 260.2h0M723.2 262.5h0M723.0 258.0h0M723.7 264.9h0M723.3 254.6h0M725.8 260.6h0M726.1 262.2h0M725.4 257.8h0M724.9 264.9h0M725.1 254.6h0M728.5 259.6h0M727.7 262.3h0M728.6 257.0h0M728.0 265.0h0M728.6 255.5h0M728.6 267.1h0M728.0 252.5h0M731.2 260.8h0M730.1 263.4h0M730.2 258.8h0M730.7 265.8h0M729.9 256.2h0M730.4 268.7h0M733.4 260.0h0M733.3 262.7h0M732.5 258.0h0M733.5 265.3h0M733.5 255.0h0M733.0 266.9h0M733.3 252.1h0M735.2 260.8h0M735.4 263.1h0M734.9 258.4h0M735.0 266.0h0M734.9 256.8h0M735.8 268.2h0M735.3 253.7h0M735.4 270.6h0M738.8 261.2h0M738.1 263.2h0M737.5 258.6h0M737.8 266.5h0M737.6 255.8h0M738.7 268.6h0M737.6 253.9h0M737.4 271.1h0M741.1 261.5h0M740.3 263.5h0M740.1 259.1h0M740.6 266.5h0M740.4 256.0h0M741.0 269.2h0M741.1 254.2h0M741.0 271.3h0M743.1 259.8h0M742.4 261.9h0M742.8 257.3h0M743.4 265.4h0M743.0 255.6h0M743.8 267.9h0M742.9 252.3h0M742.7 269.4h0M742.7 250.3h0M746.1 260.0h0M745.8 262.8h0M745.0 257.7h0M746.2 265.2h0M746.0 255.1h0M745.1 267.7h0M745.4 253.0h0M746.3 269.7h0M745.5 250.7h0M747.6 260.8h0M747.6 264.2h0M748.5 258.4h0M748.6 266.7h0M748.3 256.1h0M748.2 268.1h0M747.4 254.4h0M748.3 271.1h0M748.7 251.3h0M748.6 273.9h0M750.3 259.8h0M750.2 262.6h0M750.3 257.5h0M750.1 265.4h0M750.4 255.0h0M750.7 267.8h0M750.5 253.2h0M750.6 269.8h0M750.6 249.6h0M750.5 271.9h0M749.9 248.1h0M753.1 261.5h0M753.2 263.5h0M753.1 258.8h0M753.5 265.7h0M753.2 256.0h0M752.8 268.9h0M753.1 253.9h0M753.5 271.5h0M753.0 251.6h0M753.1 273.5h0M753.4 248.9h0M753.1 275.9h0M755.9 260.5h0M756.2 262.2h0M755.7 258.1h0M756.1 264.5h0M755.1 255.0h0M755.0 267.0h0M755.0 252.9h0M756.0 270.3h0M755.1 250.5h0M755.8 271.8h0M756.1 248.3h0M758.7 259.9h0M758.1 263.0h0M758.6 257.1h0M758.0 264.9h0M757.9 254.7h0M757.8 267.6h0M757.4 252.7h0M758.0 269.2h0M757.9 250.3h0M758.1 271.7h0M758.8 248.1h0M758.8 274.2h0M757.8 244.7h0M760.3 259.6h0M760.5 262.9h0M761.0 257.3h0M760.1 265.4h0M760.7 255.3h0M760.0 266.8h0M760.9 252.6h0M760.0 270.3h0M760.8 250.6h0M760.0 272.7h0M760.0 248.2h0M760.5 274.5h0M760.7 245.8h0M762.6 260.0h0M762.7 262.0h0M762.6 257.0h0M762.7 264.7h0M762.8 255.4h0M762.8 267.4h0M762.6 252.5h0M762.4 269.5h0M762.4 250.5h0M763.2 271.9h0M763.1 248.3h0M762.5 275.1h0M763.0 245.3h0M765.5 260.0h0M765.9 263.0h0M765.4 257.9h0M765.9 265.1h0M765.5 254.9h0M765.0 266.9h0M765.0 252.9h0M765.3 269.4h0M765.0 250.6h0M766.1 272.5h0M765.3 247.4h0M765.3 274.7h0M765.1 245.2h0M768.7 261.8h0M768.2 263.4h0M768.8 258.5h0M767.9 265.5h0M767.9 256.3h0M768.1 268.2h0M768.1 253.3h0M767.8 270.5h0M768.0 250.9h0M767.4 273.2h0M767.7 249.1h0M768.1 276.2h0M768.3 246.8h0M768.6 278.2h0M771.3 259.6h0M770.9 262.6h0M770.0 258.0h0M771.1 265.1h0M770.9 255.5h0M770.1 267.4h0M770.6 253.1h0M771.0 270.2h0M770.7 250.7h0M770.9 272.5h0M770.2 247.2h0M770.1 274.5h0M770.0 245.7h0M773.3 261.4h0M773.4 263.7h0M772.4 259.1h0M773.4 266.1h0M773.1 256.5h0M772.5 268.9h0M772.8 253.4h0M772.8 271.3h0M772.7 251.7h0M773.8 273.5h0M772.9 248.9h0M773.4 276.2h0M775.8 260.7h0M775.1 263.4h0M775.9 258.5h0M775.7 265.5h0M775.0 256.0h0M775.8 268.8h0M775.8 253.6h0M775.6 271.0h0M775.6 251.0h0M776.2 273.1h0M776.3 249.5h0M774.9 275.9h0M778.8 259.9h0M777.8 262.1h0M778.7 257.2h0M778.2 264.5h0M778.1 255.6h0M777.6 267.7h0M778.1 253.1h0M778.4 269.5h0M778.7 250.2h0M777.4 271.7h0M778.1 247.7h0M780.1 261.0h0M780.3 264.1h0M779.9 259.1h0M781.1 265.7h0M781.2 256.6h0M781.2 268.3h0M780.4 253.7h0M781.3 271.1h0M780.4 251.3h0M780.3 272.9h0M783.6 261.0h0M783.7 263.4h0M782.8 258.8h0M782.7 266.0h0M783.7 256.8h0M783.5 268.7h0M783.7 254.4h0M783.2 271.3h0M782.5 251.7h0M783.0 273.8h0M785.3 260.7h0M786.2 263.2h0M785.6 258.6h0M785.3 266.4h0M786.3 256.0h0M785.8 268.3h0M785.7 253.7h0M785.1 270.6h0M788.7 261.2h0M787.7 264.2h0M788.8 258.7h0M787.6 265.8h0M787.5 256.1h0M787.5 268.3h0M787.8 254.0h0M788.6 271.3h0M790.5 261.3h0M790.4 263.5h0M790.0 258.5h0M791.3 265.7h0M790.6 256.5h0M791.1 268.2h0M792.7 259.9h0M793.0 263.0h0M793.6 258.0h0M792.4 264.3h0M793.4 255.6h0M795.7 260.6h0M795.4 264.2h0M796.1 259.2h0M796.3 265.8h0M797.6 261.3h0M798.4 264.2h0M798.4 259.0h0M798.5 266.1h0M800.0 261.6h0M800.2 264.2h0M800.8 258.5h0M800.1 265.8h0M803.4 259.5h0M802.5 262.5h0M803.2 257.4h0M805.7 260.6h0M805.3 263.6h0M806.2 258.9h0M806.1 266.1h0M807.7 261.8h0M808.4 263.4h0M807.4 258.8h0M808.3 266.0h0M810.8 260.5h0M810.2 261.9h0M810.4 257.5h0M812.7 260.4h0M813.4 262.5h0M812.7 258.1h0M816.0 259.7h0M815.2 262.8h0M815.3 258.1h0M817.7 259.7h0M818.0 262.6h0M818.7 257.1h0M820.2 260.6h0M820.1 261.9h0M820.0 257.4h0M823.6 261.5h0M823.8 264.2h0M825.2 260.5h0M825.9 261.9h0M825.8 257.4h0M827.9 259.6h0M827.4 262.2h0M827.9 258.1h0M831.2 259.6h0M830.4 262.8h0M831.1 257.5h0M833.1 259.8h0M833.7 262.1h0M832.9 258.0h0M835.5 260.4h0M836.0 261.9h0M834.9 257.0h0M837.8 261.5h0M838.7 263.5h0M841.2 260.1h0M840.3 262.7h0M840.3 257.3h0M843.5 260.5h0M843.3 263.0h0M842.4 257.2h0M846.2 261.8h0M845.4 263.4h0M848.1 260.5h0M847.7 262.8h0M848.4 257.9h0M850.8 261.0h0M850.3 263.5h0M852.5 260.9h0M853.5 263.4h0M854.9 260.1h0M855.4 263.0h0M856.1 258.1h0M857.5 259.5h0M858.1 262.7h0M858.0 257.2h0M860.8 261.4h0M860.9 264.1h0M862.6 261.6h0M862.8 263.8h0M865.9 260.9h0M865.2 263.4h0M868.6 261.3h0M867.9 263.6h0M870.6 260.9h0M871.0 263.9h0M872.5 260.0h0M876.1 261.7h0M875.0 263.4h0M877.7 261.8h0M878.2 264.2h0M881.1 261.2h0M880.3 264.0h0M882.5 260.1h0M885.2 259.8h0M887.7 259.7h0M894.9 259.8h0M900.3 259.6h0M907.5 259.9h0M915.1 260.2h0M953.7 259.9h0M968.2 260.2h0M685.6 306.3h0M688.0 306.3h0M695.8 306.3h0M705.6 306.7h0M711.1 307.4h0M713.5 306.4h0M715.6 308.6h0M716.2 310.1h0M718.7 306.3h0M717.9 309.6h0M717.6 304.8h0M721.0 307.6h0M720.6 311.0h0M720.2 305.3h0M720.6 312.7h0M722.7 306.4h0M723.7 309.5h0M723.7 304.0h0M723.5 311.2h0M723.1 302.1h0M726.1 308.1h0M725.7 310.9h0M725.0 306.2h0M725.8 312.8h0M726.0 302.8h0M726.3 315.5h0M728.5 308.0h0M727.6 310.8h0M727.5 306.0h0M727.8 313.1h0M728.8 303.2h0M728.3 315.2h0M727.4 300.1h0M727.6 318.0h0M730.6 307.3h0M730.1 308.9h0M730.8 303.8h0M729.9 311.5h0M730.0 301.7h0M730.2 314.3h0M730.7 299.1h0M730.8 316.6h0M730.1 297.5h0M732.6 306.3h0M733.3 309.7h0M733.5 304.2h0M732.8 311.1h0M733.3 302.0h0M732.9 314.3h0M733.0 300.0h0M733.4 316.3h0M733.7 296.5h0M733.1 318.9h0M732.7 294.0h0M734.9 308.1h0M736.2 310.0h0M735.2 305.7h0M735.6 313.1h0M736.0 302.7h0M735.3 315.1h0M735.0 301.1h0M736.0 318.1h0M734.9 298.6h0M735.9 320.2h0M735.9 295.7h0M735.2 322.3h0M737.5 307.8h0M738.4 310.7h0M738.6 305.8h0M737.8 313.0h0M738.0 303.5h0M738.1 315.1h0M738.3 301.2h0M737.7 318.3h0M737.4 297.9h0M737.7 320.6h0M738.7 296.1h0M737.9 323.2h0M737.9 293.0h0M738.7 325.3h0M740.8 307.4h0M740.6 309.7h0M740.9 304.8h0M740.5 312.0h0M740.7 301.7h0M740.2 314.3h0M740.0 299.9h0M740.1 316.0h0M740.0 297.5h0M740.4 318.6h0M739.9 294.0h0M740.9 321.7h0M740.9 292.4h0M743.2 307.9h0M743.5 310.9h0M743.6 305.1h0M743.6 313.4h0M743.7 302.7h0M742.7 314.9h0M742.4 301.1h0M743.5 318.0h0M743.6 298.4h0M742.8 319.8h0M742.5 296.1h0M742.7 322.5h0M744.9 307.7h0M745.3 310.7h0M745.4 305.4h0M746.2 312.9h0M746.1 303.3h0M744.9 315.3h0M745.5 301.0h0M745.4 318.1h0M745.7 297.9h0M746.1 319.8h0M747.6 307.4h0M747.7 310.8h0M748.8 305.0h0M748.1 312.9h0M748.5 302.7h0M748.1 315.2h0M748.6 300.4h0M748.7 317.6h0M750.9 306.8h0M750.1 309.4h0M750.0 304.7h0M750.9 312.0h0M750.8 301.7h0M750.5 314.0h0M751.1 299.0h0M752.4 307.7h0M752.8 311.0h0M753.1 305.4h0M753.6 312.6h0M753.0 303.2h0M753.5 315.7h0M755.4 307.8h0M755.1 310.9h0M755.8 305.9h0M755.1 312.9h0M756.0 303.2h0M755.1 315.3h0M757.7 306.4h0M757.8 309.5h0M758.6 303.9h0M757.6 311.4h0M757.9 301.9h0M760.4 307.7h0M761.3 310.7h0M760.0 306.1h0M760.0 312.8h0M761.3 303.5h0M760.9 315.3h0M763.3 307.6h0M762.7 310.3h0M762.4 305.5h0M763.5 313.2h0M763.1 303.3h0M763.0 314.9h0M765.5 307.1h0M766.2 309.2h0M765.7 304.6h0M765.5 311.4h0M765.9 302.4h0M768.4 307.2h0M768.4 309.4h0M768.0 304.1h0M768.3 311.2h0M768.0 302.2h0M770.8 306.5h0M770.5 309.2h0M770.8 304.2h0M770.8 312.2h0M770.2 302.1h0M772.9 306.8h0M773.8 308.7h0M773.2 303.9h0M773.5 312.2h0M773.1 301.4h0M775.7 308.3h0M775.6 310.6h0M776.1 305.6h0M775.5 313.5h0M775.2 303.3h0M775.4 315.7h0M778.8 307.9h0M777.5 310.2h0M778.0 305.0h0M778.0 312.8h0M778.4 302.9h0M777.8 315.0h0M781.2 306.8h0M780.2 309.6h0M780.4 304.0h0M780.1 312.0h0M781.0 302.1h0M783.2 307.7h0M783.7 310.3h0M783.3 306.0h0M783.5 312.9h0M782.8 303.2h0M782.6 315.8h0M786.1 307.7h0M785.4 310.2h0M785.5 305.2h0M784.9 313.2h0M785.3 302.8h0M785.3 315.4h0M788.3 308.2h0M787.9 311.0h0M788.6 305.0h0M788.6 313.4h0M788.5 302.7h0M788.6 315.5h0M789.9 308.6h0M790.8 310.2h0M790.0 305.1h0M790.2 313.3h0M790.4 302.7h0M791.2 315.7h0M793.6 308.2h0M793.5 310.7h0M793.7 305.9h0M793.6 312.6h0M793.4 303.2h0M793.4 315.3h0M795.7 306.5h0M795.2 308.8h0M795.6 303.8h0M795.6 311.3h0M795.6 301.9h0M798.6 306.2h0M798.6 309.2h0M798.2 304.5h0M798.6 311.5h0M798.0 302.5h0M800.8 308.2h0M799.9 310.6h0M800.9 306.1h0M800.4 313.5h0M800.6 303.1h0M801.2 314.8h0M803.3 306.6h0M803.6 309.1h0M803.1 304.4h0M803.5 311.4h0M803.0 301.8h0M806.1 306.6h0M806.1 309.1h0M805.6 304.1h0M805.6 312.3h0M805.8 302.3h0M807.8 306.6h0M808.2 309.4h0M808.5 303.8h0M808.4 312.2h0M808.2 301.4h0M809.9 306.4h0M811.2 309.4h0M810.8 304.7h0M811.2 311.8h0M810.8 302.1h0M813.2 308.2h0M812.7 310.7h0M813.0 305.9h0M812.5 312.5h0M816.0 307.3h0M815.8 309.1h0M816.1 304.7h0M815.7 311.4h0M815.3 301.8h0M818.0 308.2h0M818.7 309.9h0M818.2 305.0h0M817.6 313.3h0M821.2 308.0h0M819.9 310.3h0M820.7 306.1h0M821.3 312.9h0M822.5 308.2h0M822.7 310.1h0M822.4 305.0h0M823.4 312.5h0M825.0 307.2h0M825.1 308.7h0M825.9 304.0h0M827.7 306.3h0M828.5 309.5h0M828.6 304.6h0M830.8 307.1h0M830.5 309.8h0M830.3 304.9h0M832.4 306.2h0M833.3 309.6h0M832.5 304.1h0M835.1 307.2h0M835.6 308.7h0M835.4 304.4h0M838.3 306.4h0M838.5 309.1h0M838.3 304.5h0M840.4 307.1h0M841.2 309.6h0M840.7 304.1h0M843.8 307.0h0M843.6 309.0h0M843.2 304.9h0M845.7 307.8h0M845.5 310.9h0M848.4 306.9h0M848.7 309.6h0M847.8 303.8h0M850.5 306.9h0M851.0 309.7h0M850.0 304.7h0M853.6 308.1h0M852.8 310.9h0M855.9 308.5h0M855.4 310.0h0M858.5 307.7h0M858.5 311.0h0M860.7 308.2h0M860.6 310.1h0M863.5 308.4h0M863.0 310.0h0M866.0 307.7h0M865.7 311.0h0M868.1 308.0h0M868.2 310.1h0M870.2 308.3h0M870.4 310.6h0M873.1 307.6h0M872.5 311.1h0M875.0 308.2h0M876.0 310.1h0M877.9 308.0h0M877.4 309.9h0M881.1 306.8h0M882.8 308.4h0M883.0 311.0h0M886.0 307.4h0M887.5 307.7h0M887.7 310.0h0M890.7 308.5h0M890.5 311.0h0M892.5 306.9h0M895.1 307.4h0M898.2 307.0h0M903.0 306.7h0M906.3 307.4h0M907.5 306.5h0M911.2 307.3h0M916.0 307.1h0M922.6 307.1h0M930.7 307.1h0M932.9 306.5h0M935.6 306.4h0M937.6 307.0h0M940.9 306.4h0M943.7 306.5h0M953.0 306.3h0M969.6 306.9h0M683.3 366.2h0M690.0 366.3h0M698.5 365.8h0M708.7 366.0h0M716.1 365.8h0M717.9 366.1h0M720.6 365.9h0M722.6 366.3h0M727.8 366.3h0M731.0 366.7h0M731.1 370.2h0M733.1 367.3h0M733.2 369.1h0M735.2 366.8h0M735.0 369.4h0M737.4 366.7h0M738.4 369.3h0M740.7 366.1h0M740.6 368.7h0M740.0 364.0h0M742.5 365.5h0M743.1 368.5h0M742.8 363.1h0M745.1 367.3h0M746.1 369.3h0M745.7 365.1h0M745.1 372.5h0M747.9 367.1h0M748.6 369.7h0M748.0 365.3h0M748.5 371.9h0M750.4 365.9h0M751.3 368.8h0M751.2 363.9h0M751.1 370.4h0M750.6 361.6h0M752.7 365.9h0M753.3 368.3h0M753.1 363.0h0M753.0 370.9h0M752.4 360.7h0M756.0 367.7h0M755.8 370.0h0M756.1 365.2h0M754.9 372.3h0M755.3 362.5h0M755.3 374.6h0M758.3 366.9h0M758.1 369.6h0M758.7 364.5h0M757.8 372.3h0M757.6 362.4h0M758.7 374.6h0M760.6 367.3h0M760.1 369.2h0M760.1 364.5h0M760.5 371.9h0M760.2 361.8h0M760.7 375.0h0M760.8 360.0h0M760.8 376.7h0M763.0 367.3h0M763.3 369.6h0M762.8 364.5h0M762.7 372.1h0M762.9 362.4h0M762.4 374.4h0M763.6 359.6h0M763.2 377.0h0M766.3 365.8h0M766.0 368.0h0M765.0 364.0h0M765.5 370.4h0M765.4 361.0h0M765.9 372.9h0M765.2 359.2h0M765.9 375.4h0M765.4 356.0h0M768.3 367.6h0M768.5 369.7h0M768.4 365.1h0M768.5 372.1h0M768.5 362.6h0M768.7 374.1h0M768.6 359.3h0M768.5 377.1h0M768.1 358.0h0M768.2 379.4h0M771.1 366.1h0M770.4 368.4h0M770.5 363.8h0M770.3 370.8h0M770.7 361.0h0M770.4 373.7h0M771.1 358.6h0M770.5 375.4h0M770.3 355.8h0M770.7 378.3h0M770.0 354.3h0M773.6 367.6h0M773.7 369.3h0M773.0 365.3h0M772.4 371.6h0M773.2 362.3h0M773.7 374.9h0M773.2 360.5h0M773.1 377.0h0M773.4 357.3h0M772.9 379.6h0M772.9 355.5h0M773.3 382.0h0M775.4 367.1h0M775.7 369.8h0M776.1 365.3h0M775.6 372.1h0M775.8 362.9h0M775.4 374.6h0M776.0 359.5h0M775.3 377.6h0M776.1 357.4h0M775.1 379.9h0M775.9 355.4h0M776.3 382.4h0M777.6 367.0h0M778.1 369.7h0M777.7 364.4h0M778.3 372.2h0M777.9 362.9h0M778.3 374.0h0M778.0 360.2h0M777.8 377.3h0M777.4 357.2h0M778.6 379.6h0M778.3 354.6h0M778.1 382.0h0M780.8 366.0h0M781.3 368.5h0M780.5 363.1h0M780.1 371.2h0M780.0 360.6h0M780.1 373.4h0M781.1 358.8h0M781.0 375.3h0M779.9 356.5h0M780.4 378.5h0M780.4 353.4h0M780.3 380.2h0M781.2 351.4h0M783.0 365.9h0M782.5 368.9h0M783.2 364.1h0M783.0 371.0h0M782.7 360.6h0M783.7 373.8h0M782.8 359.1h0M783.5 375.6h0M783.2 356.8h0M783.1 378.8h0M782.7 353.6h0M783.4 380.4h0M782.8 351.8h0M786.0 365.7h0M785.1 368.3h0M785.2 364.1h0M785.3 371.0h0M785.1 361.1h0M785.4 373.2h0M785.0 358.2h0M786.1 375.6h0M785.2 355.8h0M785.3 377.9h0M784.9 353.9h0M785.4 380.3h0M785.9 350.8h0M788.6 366.8h0M788.0 370.1h0M788.5 364.4h0M787.9 372.4h0M787.9 362.9h0M787.7 375.1h0M788.1 359.5h0M788.0 376.6h0M788.4 357.1h0M788.7 379.6h0M787.9 354.7h0M788.3 381.6h0M788.6 352.1h0M788.1 384.4h0M791.0 367.1h0M790.8 369.8h0M790.3 364.6h0M790.0 371.7h0M791.1 362.1h0M790.8 374.1h0M790.7 359.7h0M790.6 376.8h0M790.0 357.2h0M790.2 379.0h0M790.9 354.7h0M790.5 382.4h0M791.0 353.0h0M791.1 383.9h0M792.4 366.2h0M793.3 368.3h0M793.0 363.7h0M793.4 370.6h0M793.6 360.9h0M793.3 373.0h0M792.6 359.1h0M793.4 376.1h0M792.5 355.6h0M792.6 377.9h0M792.8 353.6h0M792.5 380.5h0M793.3 350.9h0M795.7 366.3h0M795.3 368.4h0M795.9 363.4h0M794.9 371.3h0M796.0 360.8h0M795.0 373.8h0M795.8 358.1h0M795.2 375.3h0M796.0 355.9h0M796.2 378.5h0M795.0 354.0h0M795.5 381.0h0M796.1 351.0h0M798.7 365.9h0M798.7 368.7h0M798.4 363.9h0M798.3 370.8h0M797.5 361.3h0M798.0 373.4h0M798.7 358.2h0M798.5 375.3h0M798.4 356.6h0M797.8 378.3h0M798.8 353.9h0M798.2 380.4h0M797.5 351.1h0M800.2 367.0h0M800.1 369.9h0M800.8 364.5h0M800.2 372.1h0M800.5 362.8h0M800.4 374.3h0M801.1 359.4h0M800.7 376.8h0M801.0 357.5h0M801.0 379.1h0M800.8 355.1h0M800.5 382.2h0M802.6 367.0h0M802.9 369.3h0M802.5 364.5h0M802.7 372.4h0M803.0 361.9h0M802.9 374.5h0M802.9 359.5h0M802.5 376.4h0M803.8 357.7h0M802.5 379.7h0M803.8 355.1h0M802.6 381.9h0M805.2 366.1h0M804.9 369.0h0M805.8 363.7h0M806.2 371.1h0M805.3 360.8h0M805.1 372.8h0M806.0 359.1h0M805.3 375.4h0M805.8 356.6h0M806.2 377.9h0M806.0 354.1h0M807.9 366.8h0M808.6 369.5h0M807.9 364.8h0M807.9 372.5h0M807.7 361.8h0M808.2 374.7h0M808.5 360.1h0M808.7 377.6h0M808.1 357.4h0M807.6 379.2h0M810.0 366.2h0M810.1 368.4h0M811.3 363.1h0M810.0 370.8h0M810.2 361.4h0M809.9 373.8h0M811.1 359.0h0M810.5 375.5h0M810.8 356.2h0M812.9 367.2h0M813.3 370.1h0M813.7 364.4h0M812.8 372.1h0M813.2 362.1h0M812.7 374.1h0M812.9 359.8h0M813.8 377.5h0M816.3 366.6h0M815.8 368.8h0M815.0 363.8h0M815.8 370.7h0M815.7 361.6h0M815.6 373.5h0M815.3 358.5h0M817.4 365.6h0M818.4 368.4h0M817.5 363.7h0M817.9 371.0h0M818.0 361.1h0M818.2 373.2h0M817.6 358.3h0M820.7 366.8h0M821.1 369.4h0M820.0 364.8h0M820.3 372.1h0M820.7 362.0h0M820.7 374.1h0M823.2 366.7h0M823.0 369.2h0M823.0 365.2h0M823.2 372.4h0M823.5 361.9h0M823.8 374.8h0M826.1 367.1h0M825.1 370.2h0M825.7 365.1h0M825.1 372.5h0M825.0 362.0h0M825.4 374.0h0M827.7 365.8h0M828.4 368.4h0M828.6 363.7h0M828.6 371.0h0M828.7 361.5h0M830.9 365.8h0M831.0 368.7h0M831.1 363.1h0M830.4 371.2h0M831.2 361.4h0M833.2 365.5h0M833.2 368.8h0M832.6 364.1h0M833.3 370.6h0M832.7 361.0h0M835.7 366.8h0M834.9 369.2h0M836.0 364.4h0M835.7 371.9h0M837.9 366.8h0M838.6 369.7h0M838.4 365.1h0M838.7 371.5h0M840.1 367.2h0M841.1 370.0h0M839.9 364.4h0M841.0 372.3h0M843.1 366.8h0M843.6 369.5h0M843.6 364.9h0M842.5 371.9h0M846.2 367.3h0M845.0 369.3h0M845.4 364.7h0M845.7 372.0h0M847.4 367.3h0M847.9 369.1h0M848.0 365.4h0M847.5 371.7h0M850.3 365.7h0M850.6 368.2h0M850.7 363.6h0M853.8 365.4h0M853.2 368.8h0M853.6 363.9h0M855.8 365.8h0M855.3 368.8h0M856.1 364.1h0M857.8 366.3h0M858.4 368.5h0M858.3 363.4h0M860.5 365.5h0M860.4 368.2h0M861.3 363.5h0M862.7 365.7h0M862.9 368.0h0M862.4 364.0h0M865.5 366.1h0M865.3 368.1h0M865.0 363.3h0M868.4 366.1h0M868.7 368.3h0M868.7 363.7h0M870.2 366.1h0M871.3 368.3h0M871.0 363.5h0M872.5 367.2h0M873.7 369.4h0M874.9 365.6h0M875.3 368.7h0M875.2 363.4h0M878.2 366.4h0M878.3 368.1h0M878.4 364.1h0M880.0 367.6h0M881.1 369.5h0M882.7 366.0h0M883.6 368.6h0M883.7 363.2h0M885.9 367.4h0M885.5 369.9h0M887.5 367.1h0M887.5 369.8h0M890.6 367.3h0M890.3 369.6h0M893.7 366.1h0M893.8 367.9h0M893.3 363.8h0M895.0 366.8h0M895.1 370.0h0M898.5 367.1h0M898.2 369.8h0M900.8 367.3h0M900.4 370.0h0M903.4 367.5h0M903.5 369.4h0M906.3 367.2h0M905.3 369.7h0M907.6 365.4h0M910.8 366.3h0M913.8 365.7h0M917.4 365.6h0M920.6 366.1h0M923.7 365.8h0M925.1 366.3h0M929.9 366.3h0M933.8 366.0h0M938.5 366.0h0M941.2 365.5h0M945.8 365.9h0M950.7 365.9h0M960.3 365.7h0M965.2 366.3h0M971.3 365.7h0M976.1 366.4h0M978.5 366.4h0M980.4 366.0h0M985.9 366.1h0M996.1 365.8h0M1003.6 366.6h0M1004.9 365.5h0M1011.2 365.6h0M1015.1 366.2h0M680.6 413.1h0M684.9 413.4h0M698.6 413.5h0M700.3 413.1h0M701.3 415.5h0M700.4 410.6h0M703.8 412.6h0M703.3 416.2h0M702.8 410.9h0M702.9 417.8h0M702.7 407.8h0M706.0 414.9h0M705.0 417.1h0M705.4 412.2h0M705.7 419.1h0M706.3 408.9h0M705.9 422.2h0M708.2 415.0h0M707.7 417.0h0M708.4 411.8h0M708.4 419.2h0M708.1 409.7h0M708.3 421.6h0M708.3 407.1h0M707.7 424.4h0M711.2 413.2h0M710.9 415.7h0M710.6 410.4h0M710.1 418.6h0M710.6 408.3h0M710.6 420.9h0M710.2 405.5h0M711.1 423.0h0M710.8 403.8h0M713.6 413.9h0M712.9 417.3h0M713.5 411.5h0M712.6 419.0h0M712.5 409.4h0M713.5 421.8h0M713.0 406.6h0M713.0 424.8h0M713.4 404.6h0M713.1 427.0h0M715.1 413.4h0M715.4 415.7h0M715.2 410.6h0M715.4 418.0h0M714.9 407.9h0M715.7 420.0h0M715.1 406.1h0M715.3 422.8h0M715.2 403.8h0M715.0 425.6h0M716.1 400.6h0M718.5 413.3h0M717.9 415.1h0M718.0 410.6h0M718.4 417.9h0M718.0 408.5h0M718.5 420.4h0M717.9 405.9h0M718.7 422.6h0M718.8 403.7h0M717.9 425.6h0M717.9 400.4h0M718.5 427.8h0M718.1 398.5h0M721.0 412.6h0M720.7 415.6h0M720.5 411.2h0M720.5 418.1h0M721.1 408.2h0M720.6 420.6h0M721.1 406.1h0M720.9 422.9h0M720.0 403.6h0M720.7 425.8h0M721.0 400.5h0M720.2 427.4h0M721.0 398.0h0M723.5 414.5h0M722.5 417.1h0M723.4 412.0h0M722.5 419.6h0M723.0 409.6h0M723.8 422.2h0M723.6 406.6h0M722.9 424.2h0M722.4 405.2h0M722.8 426.4h0M722.8 401.9h0M723.6 429.2h0M723.1 399.6h0M722.5 431.3h0M726.0 414.9h0M725.3 416.5h0M725.0 412.0h0M725.4 419.3h0M725.6 409.6h0M725.4 422.1h0M725.2 407.6h0M725.7 423.7h0M725.3 404.7h0M725.5 426.8h0M725.4 401.9h0M726.0 428.9h0M728.5 413.3h0M728.0 416.2h0M728.0 411.2h0M727.5 418.0h0M728.3 407.8h0M728.6 420.0h0M728.2 405.5h0M728.7 423.1h0M728.5 403.4h0M728.3 425.7h0M727.8 400.6h0M730.1 414.9h0M730.2 416.4h0M730.0 412.3h0M731.2 419.2h0M730.8 409.2h0M731.2 422.0h0M730.1 406.5h0M730.9 423.7h0M731.1 404.4h0M730.2 426.8h0M733.2 412.8h0M733.7 415.4h0M733.6 410.3h0M733.5 418.7h0M732.9 407.7h0M732.9 420.7h0M732.7 405.9h0M732.5 423.0h0M733.4 403.3h0M735.1 414.8h0M735.1 417.4h0M736.3 412.5h0M735.6 419.1h0M735.4 409.8h0M735.6 422.3h0M735.0 407.1h0M736.1 424.3h0M737.5 412.8h0M737.8 416.1h0M738.6 410.4h0M738.7 417.5h0M738.2 408.9h0M737.9 421.1h0M738.3 405.3h0M740.5 412.9h0M740.9 415.3h0M741.0 410.5h0M740.0 418.2h0M740.0 408.4h0M741.0 420.7h0M740.5 405.3h0M742.5 414.6h0M742.6 417.0h0M742.9 411.8h0M743.3 418.9h0M742.6 410.1h0M742.9 422.2h0M745.6 412.8h0M745.0 416.1h0M745.1 410.7h0M745.7 417.6h0M745.6 407.9h0M748.1 413.0h0M747.7 415.5h0M747.7 410.3h0M747.7 418.5h0M748.1 408.8h0M751.2 413.2h0M751.0 415.7h0M750.9 410.4h0M751.0 417.7h0M750.3 407.7h0M753.1 413.0h0M753.6 415.2h0M753.2 410.4h0M753.2 418.4h0M753.4 407.8h0M755.7 413.8h0M755.0 415.8h0M755.9 411.1h0M755.4 418.5h0M755.5 408.8h0M758.7 413.1h0M758.0 415.2h0M757.7 411.0h0M758.4 417.7h0M757.9 407.9h0M760.2 414.2h0M761.3 417.5h0M761.0 412.0h0M760.6 419.7h0M763.5 414.6h0M762.7 417.0h0M763.6 412.3h0M762.5 419.6h0M765.1 415.0h0M765.8 417.2h0M765.1 412.4h0M766.2 419.8h0M768.6 414.8h0M768.2 416.8h0M768.6 412.3h0M768.6 419.1h0M770.6 413.7h0M770.1 416.2h0M771.0 410.5h0M772.7 412.8h0M773.0 415.3h0M773.1 411.2h0M775.9 413.1h0M776.0 416.0h0M775.9 411.3h0M778.0 412.7h0M778.3 416.1h0M777.9 410.9h0M781.0 412.6h0M780.6 415.1h0M780.1 411.1h0M783.2 414.4h0M782.9 416.5h0M782.9 412.4h0M783.3 419.1h0M785.3 414.7h0M785.5 417.1h0M786.0 411.5h0M785.9 418.8h0M787.7 412.9h0M788.7 415.5h0M787.7 411.2h0M791.2 413.1h0M790.6 416.2h0M790.6 411.3h0M793.6 414.0h0M793.1 416.3h0M792.6 412.5h0M793.0 419.7h0M795.4 413.9h0M795.7 417.3h0M795.6 411.8h0M796.2 419.8h0M797.5 413.3h0M798.0 416.2h0M797.9 410.9h0M800.4 413.2h0M800.8 416.1h0M800.6 410.6h0M802.5 413.6h0M803.4 415.7h0M803.0 411.1h0M805.9 413.5h0M804.9 415.4h0M805.1 411.3h0M807.6 413.3h0M808.2 415.1h0M807.9 411.0h0M810.3 413.5h0M810.3 415.7h0M810.5 411.3h0M813.5 413.4h0M812.9 416.2h0M813.4 411.0h0M815.1 413.3h0M816.1 416.0h0M815.4 410.3h0M818.6 412.8h0M818.4 415.3h0M817.8 410.2h0M820.4 413.8h0M821.2 415.3h0M820.3 411.3h0M822.8 413.1h0M822.6 415.4h0M823.0 410.6h0M825.3 414.1h0M826.2 416.8h0M828.3 414.8h0M827.8 416.5h0M830.6 414.5h0M830.8 417.2h0M832.9 413.7h0M833.1 415.4h0M833.3 410.5h0M835.0 414.8h0M835.7 416.7h0M837.8 414.1h0M837.5 416.9h0M840.8 414.3h0M841.0 416.4h0M843.3 413.8h0M843.3 415.9h0M843.5 410.6h0M845.9 414.2h0M845.4 417.2h0M847.7 413.6h0M848.1 415.7h0M848.3 411.2h0M850.4 412.7h0M850.5 415.7h0M851.1 411.0h0M853.0 414.5h0M852.8 417.3h0M856.1 414.0h0M855.8 417.2h0M858.7 414.9h0M858.4 417.3h0M861.1 414.0h0M860.9 417.1h0M862.8 413.9h0M863.2 417.3h0M865.2 414.1h0M865.0 417.1h0M868.5 414.3h0M868.4 416.4h0M870.4 413.8h0M870.8 416.4h0M872.5 414.4h0M873.2 417.2h0M876.1 414.0h0M875.2 417.0h0M877.9 414.5h0M877.7 417.2h0M881.1 414.8h0M880.7 416.3h0M882.4 413.2h0M885.0 414.6h0M885.9 417.0h0M888.1 414.5h0M887.7 417.3h0M891.0 413.8h0M893.8 413.9h0M893.1 416.4h0M895.9 414.7h0M895.5 416.7h0M898.0 414.2h0M897.7 417.2h0M900.5 412.8h0M902.7 412.9h0M905.9 413.8h0M908.7 413.7h0M910.9 412.7h0M912.4 414.9h0M913.4 417.0h0M915.4 412.8h0M918.8 413.0h0M920.1 413.0h0M927.5 412.7h0M931.0 413.2h0M941.1 412.8h0M943.2 413.2h0M945.3 412.6h0M958.4 413.1h0M964.9 412.9h0M969.9 413.6h0M978.6 413.2h0M980.4 413.3h0M990.2 413.7h0M1056.4 412.8h0M1098.0 413.7h0" stroke="#d0d0d0" stroke-width="2.5" stroke-linecap="round" fill="none"/>
<line x1="768.15" y1="241.4" x2="768.15" y2="276.6" stroke="#c0392b" stroke-width="1.4"/>
<text x="772.4" y="242.2" font-size="12">19.6</text>
<line x1="775.54" y1="288" x2="775.54" y2="323.9" stroke="#c0392b" stroke-width="1.4"/>
<text x="782" y="291.7" font-size="12">21.2</text>
<line x1="802.34" y1="348" x2="802.34" y2="383.8" stroke="#c0392b" stroke-width="1.4"/>
<text x="808.2" y="350.3" font-size="12">27.0</text>
<line x1="757.99" y1="394.8" x2="757.99" y2="430.5" stroke="#c0392b" stroke-width="1.4"/>
<text x="762" y="399" font-size="12">17.4</text>
<path d="M976.2 257H989.4V306.3H976.2" fill="none" stroke="#000" stroke-width="1.4"/>
<text x="994.5" y="281.65" font-size="12" text-anchor="middle" transform="rotate(90 994.5 281.65)">0.0705</text>
<path d="M1142.5 258.7H1154.9V365.1H1142.5" fill="none" stroke="#000" stroke-width="1.4"/>
<text x="1160" y="311.9" font-size="12" text-anchor="middle" transform="rotate(90 1160 311.9)">&lt;0.0001</text>
<path d="M1109 365.1H1121.6V414.3H1109" fill="none" stroke="#000" stroke-width="1.4"/>
<text x="1127" y="389.7" font-size="12" text-anchor="middle" transform="rotate(90 1127 389.7)">&lt;0.0001</text>
<defs>
<filter id="b05" x="-30%" y="-30%" width="160%" height="160%"><feGaussianBlur stdDeviation="0.5"/></filter>
<filter id="b1" x="-30%" y="-30%" width="160%" height="160%"><feGaussianBlur stdDeviation="1"/></filter>
<filter id="b15" x="-30%" y="-30%" width="160%" height="160%"><feGaussianBlur stdDeviation="1.5"/></filter>
<filter id="b2" x="-30%" y="-30%" width="160%" height="160%"><feGaussianBlur stdDeviation="2"/></filter>
<filter id="b3" x="-40%" y="-40%" width="180%" height="180%"><feGaussianBlur stdDeviation="3"/></filter>
<filter id="b5" x="-50%" y="-50%" width="200%" height="200%"><feGaussianBlur stdDeviation="5"/></filter>
<filter id="b8" x="-60%" y="-60%" width="220%" height="220%"><feGaussianBlur stdDeviation="8"/></filter>
<filter id="nzR" x="0" y="0" width="100%" height="100%" color-interpolation-filters="sRGB">
 <feTurbulence type="fractalNoise" baseFrequency="0.24" numOctaves="2" seed="5"/>
 <feColorMatrix type="matrix" values="0 0 0 0 0.95  0 0 0 0 0.06  0 0 0 0 0.06  3 0 0 0 -1.25"/>
</filter>
<filter id="nzK" x="0" y="0" width="100%" height="100%" color-interpolation-filters="sRGB">
 <feTurbulence type="fractalNoise" baseFrequency="0.33" numOctaves="2" seed="9"/>
 <feColorMatrix type="matrix" values="0 0 0 0 0  0 0 0 0 0  0 0 0 0 0  3 0 0 0 -1.25"/>
</filter>
</defs>
<clipPath id="cp1"><rect x="87.3" y="31" width="114.9" height="113.6"/></clipPath>
<g clip-path="url(#cp1)">
<rect x="86.3" y="30" width="116.9" height="115.6" fill="#000" stroke="none" stroke-width="1"/>
<g filter="url(#b05)">
<ellipse cx="133.09" cy="59.67" rx="2.48" ry="2.48" fill="#f40c0c"/>
<ellipse cx="130.92" cy="63.46" rx="1.83" ry="1.83" fill="#f40c0c"/>
<ellipse cx="137.42" cy="69.96" rx="2.27" ry="2.27" fill="#f40c0c"/>
<ellipse cx="108.71" cy="65.63" rx="1.29" ry="1.29" fill="#f40c0c"/>
<ellipse cx="119" cy="77.22" rx="2.27" ry="2.27" fill="#f40c0c"/>
<ellipse cx="131.46" cy="78.09" rx="3.35" ry="3.35" fill="#f40c0c"/>
<ellipse cx="148.04" cy="78.09" rx="2.7" ry="2.7" fill="#f40c0c"/>
<ellipse cx="147.71" cy="74.3" rx="1.29" ry="1.29" fill="#f40c0c"/>
<ellipse cx="165.59" cy="87.62" rx="1.73" ry="1.73" fill="#f40c0c"/>
<ellipse cx="170.79" cy="91.31" rx="2.92" ry="2.92" fill="#f40c0c"/>
<ellipse cx="175.34" cy="94.34" rx="1.08" ry="1.08" fill="#f40c0c"/>
<ellipse cx="133.09" cy="97.59" rx="2.16" ry="2.16" fill="#f40c0c"/>
<ellipse cx="146.96" cy="102.46" rx="2.92" ry="2.92" fill="#f40c0c"/>
<ellipse cx="149.88" cy="107.34" rx="1.73" ry="1.73" fill="#f40c0c"/>
<ellipse cx="116.29" cy="110.37" rx="1.62" ry="1.62" fill="#f40c0c"/>
<ellipse cx="175.88" cy="102.46" rx="1.29" ry="1.29" fill="#f40c0c"/>
<ellipse cx="171.55" cy="105.72" rx="1.29" ry="1.29" fill="#f40c0c"/>
<ellipse cx="170.79" cy="114.38" rx="4" ry="4" fill="#f40c0c"/>
<ellipse cx="184.88" cy="113.62" rx="2.92" ry="2.92" fill="#f40c0c"/>
<ellipse cx="173.17" cy="118.72" rx="1.62" ry="1.62" fill="#f40c0c"/>
<ellipse cx="148.47" cy="116.55" rx="1.51" ry="1.51" fill="#f40c0c"/>
<ellipse cx="158.01" cy="124.13" rx="1.94" ry="1.94" fill="#f40c0c"/>
<ellipse cx="167.76" cy="127.93" rx="2.48" ry="2.48" fill="#f40c0c"/>
<ellipse cx="165.59" cy="129.55" rx="1.62" ry="1.62" fill="#f40c0c"/>
<ellipse cx="172.63" cy="123.05" rx="1.29" ry="1.29" fill="#f40c0c"/>
<ellipse cx="139.37" cy="45.37" rx="0.75" ry="0.75" fill="#f40c0c"/>
<ellipse cx="162.88" cy="78.09" rx="0.75" ry="0.75" fill="#f40c0c"/>
<ellipse cx="111.96" cy="63.46" rx="0.75" ry="0.75" fill="#f40c0c"/>
<ellipse cx="135.8" cy="73.75" rx="1.08" ry="1.08" fill="#f40c0c"/>
<ellipse cx="129.3" cy="97.59" rx="0.86" ry="0.86" fill="#f40c0c"/>
<ellipse cx="188.34" cy="110.59" rx="0.86" ry="0.86" fill="#f40c0c"/>
<ellipse cx="141.76" cy="72.67" rx="0.75" ry="0.75" fill="#f40c0c"/>
<ellipse cx="176.97" cy="90.01" rx="0.86" ry="0.86" fill="#f40c0c"/>
<ellipse cx="156.92" cy="81.88" rx="0.64" ry="0.64" fill="#f40c0c"/>
</g>
<path d="M126.59 45.59C130.02 45.77 133.27 47.21 136.34 49.38C139.41 51.54 140.67 54.52 145.01 58.59C149.34 62.65 156.92 69.24 162.34 73.75C167.76 78.27 172.45 81.52 177.51 85.67C182.56 89.82 189.34 95.24 192.68 98.67C196.02 102.1 196.56 103.55 197.55 106.26C198.54 108.97 199.09 111.85 198.63 114.92C198.18 117.99 197.28 121.97 194.84 124.67C192.41 127.38 188.16 129.55 184.01 131.18C179.86 132.8 174.62 133.7 169.92 134.43C165.23 135.15 160.35 135.6 155.84 135.51C151.33 135.42 147.17 135.15 142.84 133.88C138.5 132.62 134.17 130.54 129.84 127.93C125.5 125.31 120.63 121.61 116.84 118.17C113.04 114.74 109.61 111.31 107.09 107.34C104.56 103.37 102.84 98.67 101.67 94.34C100.49 90.01 100.04 85.67 100.04 81.34C100.04 77 100.49 72.49 101.67 68.34C102.84 64.18 104.74 59.76 107.09 56.42C109.43 53.08 112.5 50.1 115.75 48.29C119 46.49 123.16 45.4 126.59 45.59Z" fill="none" stroke="#e8de36" stroke-width="1.8" stroke-dasharray="5 3.8"/>
<rect x="179.1" y="137.7" width="20.1" height="4.3" fill="#fff" stroke="none" stroke-width="1"/>
</g>
<clipPath id="cp2"><rect x="333" y="31.2" width="183.3" height="113.4"/></clipPath>
<g clip-path="url(#cp2)">
<rect x="332" y="30.2" width="185.3" height="115.4" fill="#020902" stroke="none" stroke-width="1"/>
<linearGradient id="tg" x1="0" x2="1" y1="0" y2="0"><stop offset="0" stop-color="#24e024" stop-opacity="0.9"/><stop offset="0.5" stop-color="#1cb01c" stop-opacity="0.5"/><stop offset="1" stop-color="#158015" stop-opacity="0"/></linearGradient>
<ellipse cx="430" cy="95" rx="70" ry="40" fill="#082008" filter="url(#b8)" opacity="0.3"/>
<path d="M344.17 37.67L380 39.13L380 50.87L344.17 52.33Z" fill="url(#tg)" filter="url(#b2)" opacity="0.55"/>
<ellipse cx="344.17" cy="45" rx="11.67" ry="9.33" fill="#109410" filter="url(#b2)" opacity="0.95"/>
<ellipse cx="344.17" cy="45" rx="10.37" ry="8.03" fill="#20ff20" filter="url(#b1)"/>
<path d="M397.5 37.33L433.33 38.8L433.33 50.53L397.5 52Z" fill="url(#tg)" filter="url(#b2)" opacity="0.6"/>
<ellipse cx="397.5" cy="44.67" rx="11.67" ry="9.33" fill="#109410" filter="url(#b2)" opacity="0.95"/>
<ellipse cx="397.5" cy="44.67" rx="10.37" ry="8.03" fill="#20ff20" filter="url(#b1)"/>
<path d="M409.17 83L450 84.57L450 97.1L409.17 98.67Z" fill="url(#tg)" filter="url(#b2)" opacity="0.7"/>
<ellipse cx="409.17" cy="90.83" rx="11.33" ry="9.83" fill="#109410" filter="url(#b2)" opacity="0.95"/>
<ellipse cx="409.17" cy="90.83" rx="10.03" ry="8.53" fill="#20ff20" filter="url(#b1)"/>
<path d="M364.17 99.67L406.67 101.07L406.67 112.27L364.17 113.67Z" fill="url(#tg)" filter="url(#b2)" opacity="1"/>
<ellipse cx="364.17" cy="106.67" rx="12.33" ry="9" fill="#109410" filter="url(#b2)" opacity="0.95"/>
<ellipse cx="364.17" cy="106.67" rx="11.03" ry="7.7" fill="#20ff20" filter="url(#b1)"/>
<path d="M422.5 121L465 122L465 137.33L422.5 138.33Z" fill="url(#tg)" filter="url(#b2)" opacity="0.85"/>
<ellipse cx="422.5" cy="129.67" rx="10.67" ry="10.67" fill="#109410" filter="url(#b2)" opacity="0.95"/>
<ellipse cx="422.5" cy="129.67" rx="9.37" ry="9.37" fill="#20ff20" filter="url(#b1)"/>
<path d="M475.83 119.5L508.33 121L508.33 133L475.83 134.5Z" fill="url(#tg)" filter="url(#b2)" opacity="0.45"/>
<ellipse cx="475.83" cy="127" rx="11.67" ry="9.5" fill="#109410" filter="url(#b2)" opacity="0.95"/>
<ellipse cx="475.83" cy="127" rx="10.37" ry="8.2" fill="#20ff20" filter="url(#b1)"/>
<rect x="452" y="45.3" width="53" height="17.4" rx="8" fill="#0e8c0e" filter="url(#b2)"/>
<rect x="454" y="47" width="47.5" height="14" rx="7" fill="#20ff20" filter="url(#b1)"/>
<path d="M415.9 94.1h0M501.3 83.7h0M425.9 97.2h0M367.4 88.8h0M448.0 120.0h0M351.0 65.7h0M350.4 121.9h0M459.5 36.6h0M511.8 139.1h0M452.4 100.3h0M362.5 33.7h0M429.6 38.6h0M368.4 58.9h0M339.4 83.5h0M413.7 125.5h0M428.0 103.1h0M424.5 105.5h0M416.8 62.9h0M514.6 142.5h0M486.1 110.6h0M391.1 57.5h0M386.3 39.8h0M472.7 76.4h0M487.2 74.9h0M507.4 126.1h0M334.1 55.3h0M498.8 84.2h0M511.4 76.1h0M347.2 101.9h0M474.9 61.9h0M349.8 68.9h0M508.5 116.1h0M355.4 59.3h0M352.3 38.6h0M478.3 51.7h0M435.2 81.7h0M368.5 113.2h0M357.7 103.5h0M355.1 78.7h0M372.5 61.9h0M509.7 121.2h0M389.1 130.2h0M372.1 75.8h0M488.6 103.2h0M352.2 141.8h0M372.6 60.7h0M473.9 68.5h0M387.6 40.1h0M350.3 96.7h0M378.0 98.7h0M401.3 82.3h0M507.6 85.7h0M438.0 128.2h0M367.1 49.1h0M498.4 122.8h0M379.2 53.1h0M467.8 136.4h0M369.6 137.5h0M493.7 99.0h0M410.3 43.5h0" stroke="#1a9a1a" stroke-width="1.3" stroke-linecap="round" opacity="0.75"/>
<rect x="500.8" y="137.8" width="13" height="4.2" fill="#fff" stroke="none" stroke-width="1"/>
</g>
<clipPath id="cp3"><rect x="648.6" y="51.5" width="132" height="132.8"/></clipPath>
<g clip-path="url(#cp3)">
<rect x="647.6" y="50.5" width="134" height="134.8" fill="#000" stroke="none" stroke-width="1"/>
<path d="M643.53 46.53C667.36 36.48 762.65 22.71 786.47 46.53C810.29 70.36 794.29 165.65 786.47 189.47C778.65 213.29 749.25 192.82 739.57 189.47C729.89 186.12 732.5 174.77 728.4 169.37C724.31 163.97 720.03 161.55 715 157.09C709.98 152.62 703.83 147.22 698.25 142.57C692.67 137.92 687.08 133.26 681.5 129.17C675.92 125.07 671.08 121.72 664.75 118C658.42 114.28 647.07 118.75 643.53 106.83C640 94.92 619.71 56.58 643.53 46.53Z" fill="#260000" filter="url(#b3)"/>
<ellipse cx="770.84" cy="97.9" rx="9" ry="30" fill="#400202" filter="url(#b5)" opacity="0.7"/>
<ellipse cx="773.07" cy="57.7" rx="12" ry="8" fill="#1c0000" filter="url(#b5)" opacity="0.8"/>
<path d="M698.25 56.03C703.46 56.03 708.12 56.49 712.77 57.7C717.42 58.91 722.07 60.68 726.17 63.28C730.26 65.89 733.99 69.24 737.34 73.33C740.69 77.43 743.66 82.83 746.27 87.85C748.87 92.88 750.74 98.09 752.97 103.48C755.2 108.88 757.44 114.47 759.67 120.24C761.9 126 764.51 132.89 766.37 138.1C768.23 143.31 769.76 147.41 770.84 151.5C771.92 155.6 772.85 159.13 772.85 162.67C772.85 166.21 772.29 169.93 770.84 172.72C769.38 175.51 766.74 178.12 764.14 179.42C761.53 180.72 758.18 180.91 755.2 180.54C752.22 180.16 749.43 179.05 746.27 177.19C743.11 175.33 739.76 172.35 736.22 169.37C732.68 166.39 728.77 162.86 725.05 159.32C721.33 155.78 717.79 152.06 713.88 148.15C709.98 144.24 705.7 139.59 701.6 135.87C697.51 132.15 693.41 129.17 689.32 125.82C685.22 122.47 680.76 119.3 677.03 115.77C673.31 112.23 669.87 108.51 666.98 104.6C664.1 100.69 661.31 96.23 659.73 92.32C658.14 88.41 657.4 84.69 657.49 81.15C657.58 77.61 658.52 74.08 660.28 71.1C662.05 68.12 664.56 65.52 668.1 63.28C671.64 61.05 676.48 58.91 681.5 57.7C686.53 56.49 693.04 56.03 698.25 56.03Z" fill="#2c0000" filter="url(#b2)" opacity="0.8"/>
<clipPath id="cp4"><path d="M643.53 46.53C667.36 36.48 762.65 22.71 786.47 46.53C810.29 70.36 794.29 165.65 786.47 189.47C778.65 213.29 749.25 192.82 739.57 189.47C729.89 186.12 732.5 174.77 728.4 169.37C724.31 163.97 720.03 161.55 715 157.09C709.98 152.62 703.83 147.22 698.25 142.57C692.67 137.92 687.08 133.26 681.5 129.17C675.92 125.07 671.08 121.72 664.75 118C658.42 114.28 647.07 118.75 643.53 106.83C640 94.92 619.71 56.58 643.53 46.53Z"/></clipPath>
<g clip-path="url(#cp4)" opacity="0.22"><rect x="648" y="51" width="133" height="134" filter="url(#nzR)"/></g>
<ellipse cx="710.53" cy="104.6" rx="5.58" ry="4.02" fill="#a00a0a" filter="url(#b15)" opacity="0.75"/>
<ellipse cx="703.83" cy="120.79" rx="5.14" ry="4.47" fill="#b00c0c" filter="url(#b15)" opacity="0.75"/>
<path d="M679.83 86.18C679.92 84.93 682.43 83.7 684.29 82.83C686.15 81.95 689.78 79.9 690.99 80.93C692.2 81.95 691.79 86.79 691.55 88.97C691.31 91.15 690.84 93.77 689.54 93.99C688.24 94.22 685.35 91.61 683.73 90.31C682.12 89 679.73 87.42 679.83 86.18Z" fill="#f01212" filter="url(#b1)"/>
<path d="M728.96 122.47C729.63 120.76 731.1 118.86 732.87 117.78C734.64 116.7 737.67 115.62 739.57 115.99C741.47 116.36 743.48 118.34 744.26 120.01C745.04 121.69 745.41 124.48 744.26 126.04C743.11 127.61 738.64 127.75 737.34 129.39C736.03 131.03 735.88 134.27 736.44 135.87C737 137.47 738.68 138.25 740.69 139C742.7 139.74 746.98 139.37 748.5 140.34C750.03 141.3 750.96 143.65 749.84 144.8C748.73 145.96 744.26 146.48 741.8 147.26C739.35 148.04 736.93 148.19 735.1 149.49C733.28 150.8 732.35 153.72 730.86 155.08C729.37 156.43 727.55 157.83 726.17 157.64C724.79 157.46 722.97 155.91 722.6 153.96C722.22 152.01 722.97 148.19 723.94 145.92C724.9 143.65 727.36 142.38 728.4 140.34C729.44 138.29 730.11 135.68 730.19 133.64C730.26 131.59 729.05 129.91 728.85 128.05C728.64 126.19 728.29 124.18 728.96 122.47Z" fill="#e81010" filter="url(#b15)"/>
<path d="M730.64 122.47C731.19 120.27 733.05 119.99 734.54 119.34C736.03 118.69 738.36 118.04 739.57 118.56C740.78 119.08 742.17 121.07 741.8 122.47C741.43 123.86 738.64 125.45 737.34 126.94C736.03 128.42 734.73 129.35 733.99 131.4C733.24 133.45 733.61 136.61 732.87 139.22C732.12 141.82 730.64 144.62 729.52 147.04C728.4 149.46 726.91 153.36 726.17 153.74C725.42 154.11 724.68 151.32 725.05 149.27C725.42 147.22 727.38 144.24 728.4 141.45C729.43 138.66 730.82 135.68 731.19 132.52C731.57 129.35 730.08 124.66 730.64 122.47Z" fill="#ff2222" filter="url(#b1)"/>
<path d="M698.25 56.03C703.46 56.03 708.12 56.49 712.77 57.7C717.42 58.91 722.07 60.68 726.17 63.28C730.26 65.89 733.99 69.24 737.34 73.33C740.69 77.43 743.66 82.83 746.27 87.85C748.87 92.88 750.74 98.09 752.97 103.48C755.2 108.88 757.44 114.47 759.67 120.24C761.9 126 764.51 132.89 766.37 138.1C768.23 143.31 769.76 147.41 770.84 151.5C771.92 155.6 772.85 159.13 772.85 162.67C772.85 166.21 772.29 169.93 770.84 172.72C769.38 175.51 766.74 178.12 764.14 179.42C761.53 180.72 758.18 180.91 755.2 180.54C752.22 180.16 749.43 179.05 746.27 177.19C743.11 175.33 739.76 172.35 736.22 169.37C732.68 166.39 728.77 162.86 725.05 159.32C721.33 155.78 717.79 152.06 713.88 148.15C709.98 144.24 705.7 139.59 701.6 135.87C697.51 132.15 693.41 129.17 689.32 125.82C685.22 122.47 680.76 119.3 677.03 115.77C673.31 112.23 669.87 108.51 666.98 104.6C664.1 100.69 661.31 96.23 659.73 92.32C658.14 88.41 657.4 84.69 657.49 81.15C657.58 77.61 658.52 74.08 660.28 71.1C662.05 68.12 664.56 65.52 668.1 63.28C671.64 61.05 676.48 58.91 681.5 57.7C686.53 56.49 693.04 56.03 698.25 56.03Z" fill="none" stroke="#e8de36" stroke-width="2.1" stroke-dasharray="5.6 3.9"/>
</g>
<clipPath id="cp5"><rect x="783" y="51.5" width="132.4" height="132.8"/></clipPath>
<g clip-path="url(#cp5)">
<rect x="782" y="50.5" width="134.4" height="134.8" fill="#000" stroke="none" stroke-width="1"/>
<path d="M777.53 71.1C782 50.07 796.14 65.05 804.33 63.28C812.52 61.52 819.97 61.42 826.67 60.49C833.37 59.56 838.95 58.17 844.53 57.7C850.12 57.23 854.77 56.96 860.17 57.7C865.57 58.44 872.82 59.56 876.92 62.17C881.01 64.77 881.94 67.75 884.74 73.33C887.53 78.92 890.32 88.6 893.67 95.67C897.02 102.74 900.37 110.18 904.84 115.77C909.3 121.35 917.86 116.88 920.47 129.17C923.08 141.45 944.29 179.42 920.47 189.47C896.65 199.52 801.36 209.2 777.53 189.47C753.71 169.74 773.07 92.13 777.53 71.1Z" fill="#5e0606" filter="url(#b3)"/>
<ellipse cx="860.17" cy="72.22" rx="22" ry="9" fill="#8c0c0c" filter="url(#b5)" opacity="0.7"/>
<ellipse cx="790.93" cy="164.9" rx="10" ry="9" fill="#280101" filter="url(#b5)" opacity="0.85"/>
<ellipse cx="907.07" cy="162.67" rx="8" ry="14" fill="#9a0c0c" filter="url(#b5)" opacity="0.6"/>
<path d="M815.5 75.01C819.6 74.54 824.43 74.36 828.9 75.01C833.37 75.66 837.46 77.15 842.3 78.92C847.14 80.69 852.72 83.01 857.94 85.62C863.15 88.22 868.73 91.2 873.57 94.55C878.41 97.9 882.87 102 886.97 105.72C891.06 109.44 894.79 113.16 898.14 116.88C901.49 120.61 904.74 124.33 907.07 128.05C909.4 131.77 911.35 135.87 912.09 139.22C912.84 142.57 912.56 145.17 911.54 148.15C910.51 151.13 908.56 154.29 905.95 157.09C903.35 159.88 899.81 162.67 895.9 164.9C891.99 167.14 886.97 169.28 882.5 170.49C878.04 171.7 873.57 172.35 869.1 172.16C864.64 171.98 860.17 171.14 855.7 169.37C851.24 167.6 846.77 164.72 842.3 161.55C837.83 158.39 833.37 154.67 828.9 150.39C824.43 146.11 819.97 140.71 815.5 135.87C811.03 131.03 806.01 125.63 802.1 121.35C798.19 117.07 794.56 113.72 792.05 110.18C789.54 106.65 787.58 103.3 787.03 100.13C786.47 96.97 787.3 93.99 788.7 91.2C790.1 88.41 792.79 85.62 795.4 83.38C798.01 81.15 800.98 79.2 804.33 77.8C807.68 76.4 811.41 75.47 815.5 75.01Z" fill="#200000" filter="url(#b3)"/>
<clipPath id="cp6"><path d="M777.53 71.1C782 50.07 796.14 65.05 804.33 63.28C812.52 61.52 819.97 61.42 826.67 60.49C833.37 59.56 838.95 58.17 844.53 57.7C850.12 57.23 854.77 56.96 860.17 57.7C865.57 58.44 872.82 59.56 876.92 62.17C881.01 64.77 881.94 67.75 884.74 73.33C887.53 78.92 890.32 88.6 893.67 95.67C897.02 102.74 900.37 110.18 904.84 115.77C909.3 121.35 917.86 116.88 920.47 129.17C923.08 141.45 944.29 179.42 920.47 189.47C896.65 199.52 801.36 209.2 777.53 189.47C753.71 169.74 773.07 92.13 777.53 71.1Z"/></clipPath>
<g clip-path="url(#cp6)" opacity="0.22"><rect x="782" y="51" width="134" height="134" filter="url(#nzR)"/></g>
<ellipse cx="822.2" cy="95.67" rx="6.92" ry="6.7" fill="#640606" filter="url(#b2)" opacity="0.9"/>
<ellipse cx="859.05" cy="126.94" rx="9.16" ry="10.27" fill="#7c0909" filter="url(#b2)" opacity="0.9"/>
<ellipse cx="834.48" cy="139.22" rx="6.25" ry="6.25" fill="#640606" filter="url(#b2)" opacity="0.9"/>
<ellipse cx="871.34" cy="140.34" rx="4.69" ry="4.69" fill="#540505" filter="url(#b2)" opacity="0.9"/>
<path d="M815.5 75.01C819.6 74.54 824.43 74.36 828.9 75.01C833.37 75.66 837.46 77.15 842.3 78.92C847.14 80.69 852.72 83.01 857.94 85.62C863.15 88.22 868.73 91.2 873.57 94.55C878.41 97.9 882.87 102 886.97 105.72C891.06 109.44 894.79 113.16 898.14 116.88C901.49 120.61 904.74 124.33 907.07 128.05C909.4 131.77 911.35 135.87 912.09 139.22C912.84 142.57 912.56 145.17 911.54 148.15C910.51 151.13 908.56 154.29 905.95 157.09C903.35 159.88 899.81 162.67 895.9 164.9C891.99 167.14 886.97 169.28 882.5 170.49C878.04 171.7 873.57 172.35 869.1 172.16C864.64 171.98 860.17 171.14 855.7 169.37C851.24 167.6 846.77 164.72 842.3 161.55C837.83 158.39 833.37 154.67 828.9 150.39C824.43 146.11 819.97 140.71 815.5 135.87C811.03 131.03 806.01 125.63 802.1 121.35C798.19 117.07 794.56 113.72 792.05 110.18C789.54 106.65 787.58 103.3 787.03 100.13C786.47 96.97 787.3 93.99 788.7 91.2C790.1 88.41 792.79 85.62 795.4 83.38C798.01 81.15 800.98 79.2 804.33 77.8C807.68 76.4 811.41 75.47 815.5 75.01Z" fill="none" stroke="#e8de36" stroke-width="2.1" stroke-dasharray="5.6 3.9"/>
</g>
<clipPath id="cp7"><rect x="923.9" y="51.5" width="132.5" height="132.8"/></clipPath>
<g clip-path="url(#cp7)">
<rect x="922.9" y="50.5" width="134.5" height="134.8" fill="#000" stroke="none" stroke-width="1"/>
<path d="M918.53 46.53C940.68 37.97 1027.6 42.07 1051.42 46.53C1075.24 51 1059.8 60.68 1061.47 73.33C1063.15 85.99 1064.26 111.3 1061.47 122.47C1058.68 133.64 1048.63 133.64 1044.72 140.34C1040.81 147.04 1039.69 154.48 1038.02 162.67C1036.34 170.86 1040.44 185 1034.67 189.47C1028.9 193.94 1011.59 192.82 1003.4 189.47C995.21 186.12 991.49 176.07 985.53 169.37C979.58 162.67 974.37 156.9 967.67 149.27C960.97 141.64 953.52 132.15 945.33 123.59C937.14 115.02 923 110.74 918.53 97.9C914.07 85.06 896.39 55.09 918.53 46.53Z" fill="#b80e0e" filter="url(#b3)"/>
<ellipse cx="1014.57" cy="62.17" rx="42" ry="13" fill="#4a0303" filter="url(#b5)" opacity="0.9"/>
<ellipse cx="1049.19" cy="57.7" rx="10" ry="8" fill="#1a0000" filter="url(#b5)" opacity="0.9"/>
<path d="M959.85 72.22C963.57 71.66 968.97 71.47 973.25 71.66C977.53 71.84 981.25 72.12 985.53 73.33C989.82 74.54 994.47 76.5 998.94 78.92C1003.4 81.34 1007.87 84.5 1012.34 87.85C1016.8 91.2 1022.01 95.48 1025.74 99.02C1029.46 102.55 1032.53 105.53 1034.67 109.07C1036.81 112.6 1038.02 116.14 1038.58 120.24C1039.14 124.33 1038.58 129.17 1038.02 133.64C1037.46 138.1 1036.34 142.57 1035.23 147.04C1034.11 151.5 1032.9 156.34 1031.32 160.44C1029.74 164.53 1027.78 168.9 1025.74 171.6C1023.69 174.3 1021.46 175.79 1019.04 176.63C1016.62 177.47 1014.2 177.65 1011.22 176.63C1008.24 175.6 1004.7 173.18 1001.17 170.49C997.63 167.79 993.72 163.97 990 160.44C986.28 156.9 982.56 153.36 978.83 149.27C975.11 145.17 971.2 140.34 967.67 135.87C964.13 131.4 960.78 126.94 957.62 122.47C954.45 118 951.1 113.16 948.68 109.07C946.26 104.97 944.4 101.44 943.1 97.9C941.8 94.36 940.77 90.64 940.87 87.85C940.96 85.06 941.98 83.29 943.66 81.15C945.33 79.01 948.22 76.5 950.92 75.01C953.62 73.52 956.13 72.78 959.85 72.22Z" fill="#5c0505" filter="url(#b2)"/>
<clipPath id="cp8"><path d="M918.53 46.53C940.68 37.97 1027.6 42.07 1051.42 46.53C1075.24 51 1059.8 60.68 1061.47 73.33C1063.15 85.99 1064.26 111.3 1061.47 122.47C1058.68 133.64 1048.63 133.64 1044.72 140.34C1040.81 147.04 1039.69 154.48 1038.02 162.67C1036.34 170.86 1040.44 185 1034.67 189.47C1028.9 193.94 1011.59 192.82 1003.4 189.47C995.21 186.12 991.49 176.07 985.53 169.37C979.58 162.67 974.37 156.9 967.67 149.27C960.97 141.64 953.52 132.15 945.33 123.59C937.14 115.02 923 110.74 918.53 97.9C914.07 85.06 896.39 55.09 918.53 46.53Z"/></clipPath>
<g clip-path="url(#cp8)" opacity="0.3"><rect x="923" y="51" width="134" height="134" filter="url(#nzR)"/></g>
<g filter="url(#b1)">
<path d="M958.73 95.67C958.73 93.99 960.97 91.29 963.2 90.08C965.43 88.87 970.09 88.97 972.13 88.41C974.18 87.85 974.55 86.08 975.48 86.73C976.42 87.39 976.6 90.64 977.72 92.32C978.83 93.99 981.25 95.48 982.18 96.78C983.12 98.09 984.23 99.39 983.3 100.13C982.37 100.88 978.83 100.88 976.6 101.25C974.37 101.62 972.13 102.55 969.9 102.37C967.67 102.18 965.06 101.25 963.2 100.13C961.34 99.02 958.73 97.34 958.73 95.67Z" fill="#ff1212"/>
<path d="M975.48 119.12C976.23 118.56 979.02 119.49 981.07 120.24C983.12 120.98 985.91 123.77 987.77 123.59C989.63 123.4 990.37 120.51 992.24 119.12C994.1 117.72 996.7 115.95 998.94 115.21C1001.17 114.47 1003.4 114.37 1005.64 114.65C1007.87 114.93 1010.66 115.95 1012.34 116.88C1014.01 117.82 1015.69 119.12 1015.69 120.24C1015.69 121.35 1014.01 123.21 1012.34 123.59C1010.66 123.96 1007.68 122.28 1005.64 122.47C1003.59 122.65 1001.91 123.96 1000.05 124.7C998.19 125.45 996.33 126.75 994.47 126.94C992.61 127.12 990.93 126 988.88 125.82C986.84 125.63 984.23 126.19 982.18 125.82C980.14 125.45 977.72 124.7 976.6 123.59C975.48 122.47 974.74 119.68 975.48 119.12Z" fill="#ff1212"/>
<path d="M1005.64 136.99C1006.94 135.5 1010.1 134.94 1011.22 135.87C1012.34 136.8 1012.52 140.34 1012.34 142.57C1012.15 144.8 1010.66 146.85 1010.1 149.27C1009.54 151.69 1010.1 155.6 1008.99 157.09C1007.87 158.57 1005.45 158.76 1003.4 158.2C1001.35 157.64 998.19 155.22 996.7 153.74C995.21 152.25 993.91 150.2 994.47 149.27C995.03 148.34 998.56 148.9 1000.05 148.15C1001.54 147.41 1002.47 146.66 1003.4 144.8C1004.33 142.94 1004.33 138.47 1005.64 136.99Z" fill="#ff1212"/>
<ellipse cx="1003.4" cy="101.81" rx="5.14" ry="3.57" fill="#ff1212"/>
<ellipse cx="1021.27" cy="160.99" rx="6.92" ry="8.71" fill="#ff1212" transform="rotate(35 1021.27 160.99)"/>
<ellipse cx="982.18" cy="79.48" rx="2.31" ry="2.31" fill="#ff1212"/>
<ellipse cx="947.57" cy="84.5" rx="1.42" ry="1.42" fill="#ff1212"/>
<ellipse cx="955.38" cy="87.29" rx="1.86" ry="1.86" fill="#ff1212"/>
<ellipse cx="952.59" cy="93.99" rx="1.64" ry="1.64" fill="#ff1212"/>
<ellipse cx="963.2" cy="82.83" rx="1.42" ry="1.42" fill="#ff1212"/>
<ellipse cx="955.38" cy="105.72" rx="1.42" ry="1.42" fill="#ff1212"/>
<ellipse cx="962.08" cy="104.04" rx="1.42" ry="1.42" fill="#ff1212"/>
<ellipse cx="962.64" cy="116.33" rx="1.19" ry="1.19" fill="#ff1212"/>
<ellipse cx="984.42" cy="90.64" rx="1.08" ry="1.08" fill="#ff1212"/>
<ellipse cx="1001.17" cy="92.32" rx="1.42" ry="1.42" fill="#ff1212"/>
<ellipse cx="1025.18" cy="109.07" rx="1.86" ry="1.86" fill="#ff1212"/>
<ellipse cx="1026.85" cy="118.56" rx="2.09" ry="2.09" fill="#ff1212"/>
<ellipse cx="1021.27" cy="123.59" rx="1.86" ry="1.86" fill="#ff1212"/>
<ellipse cx="1018.48" cy="115.21" rx="1.19" ry="1.19" fill="#ff1212"/>
<ellipse cx="1011.78" cy="131.96" rx="1.86" ry="1.86" fill="#ff1212"/>
<ellipse cx="1017.92" cy="136.43" rx="1.64" ry="1.64" fill="#ff1212"/>
<ellipse cx="1025.18" cy="133.08" rx="1.86" ry="1.86" fill="#ff1212"/>
<ellipse cx="1031.88" cy="130.84" rx="1.64" ry="1.64" fill="#ff1212"/>
<ellipse cx="1024.62" cy="141.45" rx="1.64" ry="1.64" fill="#ff1212"/>
<ellipse cx="1030.2" cy="142.57" rx="1.86" ry="1.86" fill="#ff1212"/>
<ellipse cx="976.04" cy="135.31" rx="1.64" ry="1.64" fill="#ff1212"/>
<ellipse cx="984.42" cy="139.22" rx="1.75" ry="1.75" fill="#ff1212"/>
<ellipse cx="995.59" cy="143.13" rx="1.64" ry="1.64" fill="#ff1212"/>
<ellipse cx="973.81" cy="130.84" rx="1.19" ry="1.19" fill="#ff1212"/>
<ellipse cx="1000.05" cy="161.55" rx="1.08" ry="1.08" fill="#ff1212"/>
<ellipse cx="992.24" cy="148.15" rx="1.19" ry="1.19" fill="#ff1212"/>
<ellipse cx="1019.04" cy="101.25" rx="1.19" ry="1.19" fill="#ff1212"/>
<ellipse cx="967.11" cy="79.48" rx="1.19" ry="1.19" fill="#ff1212"/>
</g>
<path d="M959.85 72.22C963.57 71.66 968.97 71.47 973.25 71.66C977.53 71.84 981.25 72.12 985.53 73.33C989.82 74.54 994.47 76.5 998.94 78.92C1003.4 81.34 1007.87 84.5 1012.34 87.85C1016.8 91.2 1022.01 95.48 1025.74 99.02C1029.46 102.55 1032.53 105.53 1034.67 109.07C1036.81 112.6 1038.02 116.14 1038.58 120.24C1039.14 124.33 1038.58 129.17 1038.02 133.64C1037.46 138.1 1036.34 142.57 1035.23 147.04C1034.11 151.5 1032.9 156.34 1031.32 160.44C1029.74 164.53 1027.78 168.9 1025.74 171.6C1023.69 174.3 1021.46 175.79 1019.04 176.63C1016.62 177.47 1014.2 177.65 1011.22 176.63C1008.24 175.6 1004.7 173.18 1001.17 170.49C997.63 167.79 993.72 163.97 990 160.44C986.28 156.9 982.56 153.36 978.83 149.27C975.11 145.17 971.2 140.34 967.67 135.87C964.13 131.4 960.78 126.94 957.62 122.47C954.45 118 951.1 113.16 948.68 109.07C946.26 104.97 944.4 101.44 943.1 97.9C941.8 94.36 940.77 90.64 940.87 87.85C940.96 85.06 941.98 83.29 943.66 81.15C945.33 79.01 948.22 76.5 950.92 75.01C953.62 73.52 956.13 72.78 959.85 72.22Z" fill="none" stroke="#e8de36" stroke-width="2.1" stroke-dasharray="5.6 3.9"/>
</g>
<clipPath id="cp9"><rect x="1058.5" y="51.5" width="132.4" height="132.8"/></clipPath>
<g clip-path="url(#cp9)">
<rect x="1057.5" y="50.5" width="134.4" height="134.8" fill="#000" stroke="none" stroke-width="1"/>
<path d="M1053.53 46.53C1064.7 32.76 1107.13 44.67 1120.53 46.53C1133.94 48.39 1131.33 54.16 1133.94 57.7C1136.54 61.24 1134.68 64.03 1136.17 67.75C1137.66 71.47 1139.15 76.68 1142.87 80.03C1146.59 83.38 1152.92 84.31 1158.5 87.85C1164.09 91.39 1172.09 96.23 1176.37 101.25C1180.65 106.28 1181.77 111.86 1184.19 118C1186.61 124.14 1188.84 132.52 1190.89 138.1C1192.93 143.69 1195.54 142.94 1196.47 151.5C1197.4 160.06 1207.26 183.14 1196.47 189.47C1185.68 195.8 1144.36 192.82 1131.7 189.47C1119.05 186.12 1125 174.77 1120.53 169.37C1116.07 163.97 1109.74 160.99 1104.9 157.09C1100.06 153.18 1097.08 148.71 1091.5 145.92C1085.92 143.13 1077.73 143.13 1071.4 140.34C1065.07 137.54 1056.51 144.8 1053.53 129.17C1050.56 113.53 1042.37 60.31 1053.53 46.53Z" fill="#4c0404" filter="url(#b3)"/>
<ellipse cx="1158.5" cy="177.19" rx="16" ry="7" fill="#a00c0c" filter="url(#b5)" opacity="0.7"/>
<path d="M1104.9 68.87C1108.25 68.87 1112.35 69.05 1116.07 69.98C1119.79 70.91 1123.33 72.4 1127.24 74.45C1131.14 76.5 1135.61 79.29 1139.52 82.27C1143.43 85.25 1147.34 88.78 1150.69 92.32C1154.04 95.85 1156.83 99.58 1159.62 103.48C1162.41 107.39 1165.3 111.67 1167.44 115.77C1169.58 119.86 1171.25 123.96 1172.46 128.05C1173.67 132.15 1174.51 136.43 1174.69 140.34C1174.88 144.24 1174.42 147.97 1173.58 151.5C1172.74 155.04 1171.44 158.57 1169.67 161.55C1167.9 164.53 1165.57 167.42 1162.97 169.37C1160.36 171.32 1157.01 172.72 1154.04 173.28C1151.06 173.84 1148.27 173.56 1145.1 172.72C1141.94 171.88 1138.59 170.3 1135.05 168.25C1131.52 166.21 1127.79 163.41 1123.88 160.44C1119.98 157.46 1115.7 154.11 1111.6 150.39C1107.51 146.66 1103.23 142.38 1099.32 138.1C1095.41 133.82 1091.31 128.98 1088.15 124.7C1084.99 120.42 1082.38 116.51 1080.33 112.42C1078.29 108.32 1076.61 103.86 1075.87 100.13C1075.12 96.41 1075.22 93.25 1075.87 90.08C1076.52 86.92 1077.91 83.76 1079.78 81.15C1081.64 78.55 1084.34 76.31 1087.03 74.45C1089.73 72.59 1092.99 70.91 1095.97 69.98C1098.95 69.05 1101.55 68.87 1104.9 68.87Z" fill="#080000" filter="url(#b3)"/>
<clipPath id="cp10"><path d="M1053.53 46.53C1064.7 32.76 1107.13 44.67 1120.53 46.53C1133.94 48.39 1131.33 54.16 1133.94 57.7C1136.54 61.24 1134.68 64.03 1136.17 67.75C1137.66 71.47 1139.15 76.68 1142.87 80.03C1146.59 83.38 1152.92 84.31 1158.5 87.85C1164.09 91.39 1172.09 96.23 1176.37 101.25C1180.65 106.28 1181.77 111.86 1184.19 118C1186.61 124.14 1188.84 132.52 1190.89 138.1C1192.93 143.69 1195.54 142.94 1196.47 151.5C1197.4 160.06 1207.26 183.14 1196.47 189.47C1185.68 195.8 1144.36 192.82 1131.7 189.47C1119.05 186.12 1125 174.77 1120.53 169.37C1116.07 163.97 1109.74 160.99 1104.9 157.09C1100.06 153.18 1097.08 148.71 1091.5 145.92C1085.92 143.13 1077.73 143.13 1071.4 140.34C1065.07 137.54 1056.51 144.8 1053.53 129.17C1050.56 113.53 1042.37 60.31 1053.53 46.53Z"/></clipPath>
<g clip-path="url(#cp10)" opacity="0.2"><rect x="1058" y="51" width="134" height="134" filter="url(#nzR)"/></g>
<ellipse cx="1123.88" cy="91.2" rx="5.58" ry="5.58" fill="#400303" filter="url(#b2)" opacity="0.9"/>
<ellipse cx="1125" cy="113.53" rx="6.14" ry="6.7" fill="#400303" filter="url(#b2)" opacity="0.9"/>
<ellipse cx="1117.18" cy="126.94" rx="6.7" ry="7.82" fill="#400303" filter="url(#b2)" opacity="0.9"/>
<ellipse cx="1113.83" cy="138.1" rx="4.47" ry="4.47" fill="#400303" filter="url(#b2)" opacity="0.9"/>
<ellipse cx="1147.34" cy="124.7" rx="5.58" ry="5.58" fill="#400303" filter="url(#b2)" opacity="0.9"/>
<ellipse cx="1156.27" cy="158.2" rx="4.47" ry="4.47" fill="#400303" filter="url(#b2)" opacity="0.9"/>
<path d="M1104.9 68.87C1108.25 68.87 1112.35 69.05 1116.07 69.98C1119.79 70.91 1123.33 72.4 1127.24 74.45C1131.14 76.5 1135.61 79.29 1139.52 82.27C1143.43 85.25 1147.34 88.78 1150.69 92.32C1154.04 95.85 1156.83 99.58 1159.62 103.48C1162.41 107.39 1165.3 111.67 1167.44 115.77C1169.58 119.86 1171.25 123.96 1172.46 128.05C1173.67 132.15 1174.51 136.43 1174.69 140.34C1174.88 144.24 1174.42 147.97 1173.58 151.5C1172.74 155.04 1171.44 158.57 1169.67 161.55C1167.9 164.53 1165.57 167.42 1162.97 169.37C1160.36 171.32 1157.01 172.72 1154.04 173.28C1151.06 173.84 1148.27 173.56 1145.1 172.72C1141.94 171.88 1138.59 170.3 1135.05 168.25C1131.52 166.21 1127.79 163.41 1123.88 160.44C1119.98 157.46 1115.7 154.11 1111.6 150.39C1107.51 146.66 1103.23 142.38 1099.32 138.1C1095.41 133.82 1091.31 128.98 1088.15 124.7C1084.99 120.42 1082.38 116.51 1080.33 112.42C1078.29 108.32 1076.61 103.86 1075.87 100.13C1075.12 96.41 1075.22 93.25 1075.87 90.08C1076.52 86.92 1077.91 83.76 1079.78 81.15C1081.64 78.55 1084.34 76.31 1087.03 74.45C1089.73 72.59 1092.99 70.91 1095.97 69.98C1098.95 69.05 1101.55 68.87 1104.9 68.87Z" fill="none" stroke="#e8de36" stroke-width="2.1" stroke-dasharray="5.6 3.9"/>
<rect x="1163" y="179.2" width="25.1" height="4.7" fill="#fff" stroke="none" stroke-width="1"/>
</g>
<clipPath id="cp11"><rect x="626.2" y="612.5" width="109.3" height="102.5"/></clipPath>
<g clip-path="url(#cp11)">
<rect x="625.2" y="611.5" width="111.3" height="104.5" fill="#000" stroke="none" stroke-width="1"/>
<path d="M672 620C675.83 620.08 681 620.17 685 621.5C689 622.83 693 625.92 696 628C699 630.08 699.67 632 703 634C706.33 636 712.17 637.83 716 640C719.83 642.17 723.75 644.5 726 647C728.25 649.5 729.5 652.33 729.5 655C729.5 657.67 728.25 660.5 726 663C723.75 665.5 720 667.5 716 670C712 672.5 706.67 675.33 702 678C697.33 680.67 692.33 683.92 688 686C683.67 688.08 679.83 689.83 676 690.5C672.17 691.17 668.5 690.92 665 690C661.5 689.08 658.17 687.5 655 685C651.83 682.5 648.58 678.5 646 675C643.42 671.5 641 667.67 639.5 664C638 660.33 637.17 656.67 637 653C636.83 649.33 637.33 645.5 638.5 642C639.67 638.5 641.58 634.92 644 632C646.42 629.08 650 626.33 653 624.5C656 622.67 658.83 621.75 662 621C665.17 620.25 668.17 619.92 672 620Z" fill="#000078" stroke="#000078" stroke-width="16" stroke-linejoin="round" filter="url(#b5)" opacity="0.75"/>
<path d="M672 620C675.83 620.08 681 620.17 685 621.5C689 622.83 693 625.92 696 628C699 630.08 699.67 632 703 634C706.33 636 712.17 637.83 716 640C719.83 642.17 723.75 644.5 726 647C728.25 649.5 729.5 652.33 729.5 655C729.5 657.67 728.25 660.5 726 663C723.75 665.5 720 667.5 716 670C712 672.5 706.67 675.33 702 678C697.33 680.67 692.33 683.92 688 686C683.67 688.08 679.83 689.83 676 690.5C672.17 691.17 668.5 690.92 665 690C661.5 689.08 658.17 687.5 655 685C651.83 682.5 648.58 678.5 646 675C643.42 671.5 641 667.67 639.5 664C638 660.33 637.17 656.67 637 653C636.83 649.33 637.33 645.5 638.5 642C639.67 638.5 641.58 634.92 644 632C646.42 629.08 650 626.33 653 624.5C656 622.67 658.83 621.75 662 621C665.17 620.25 668.17 619.92 672 620Z" fill="#0000a8" filter="url(#b3)" opacity="0.85"/>
<path d="M672 620C675.83 620.08 681 620.17 685 621.5C689 622.83 693 625.92 696 628C699 630.08 699.67 632 703 634C706.33 636 712.17 637.83 716 640C719.83 642.17 723.75 644.5 726 647C728.25 649.5 729.5 652.33 729.5 655C729.5 657.67 728.25 660.5 726 663C723.75 665.5 720 667.5 716 670C712 672.5 706.67 675.33 702 678C697.33 680.67 692.33 683.92 688 686C683.67 688.08 679.83 689.83 676 690.5C672.17 691.17 668.5 690.92 665 690C661.5 689.08 658.17 687.5 655 685C651.83 682.5 648.58 678.5 646 675C643.42 671.5 641 667.67 639.5 664C638 660.33 637.17 656.67 637 653C636.83 649.33 637.33 645.5 638.5 642C639.67 638.5 641.58 634.92 644 632C646.42 629.08 650 626.33 653 624.5C656 622.67 658.83 621.75 662 621C665.17 620.25 668.17 619.92 672 620Z" fill="#0a0aec" filter="url(#b1)"/>
<ellipse cx="676" cy="658" rx="34" ry="28" fill="#0404fa" filter="url(#b8)" opacity="0.7"/>
<ellipse cx="652" cy="700.5" rx="10" ry="10" fill="#000090" filter="url(#b3)" opacity="0.8"/>
<ellipse cx="652" cy="700.5" rx="6.2" ry="6.2" fill="#0a0ae8" filter="url(#b05)"/>
<path d="M646.5 694.5L636 691L642.3 690.3L643.5 684.5Z" fill="#f2dc3c"/>
<rect x="714.8" y="709.5" width="17.7" height="4.3" fill="#fff" stroke="none" stroke-width="1"/>
</g>
<clipPath id="cp12"><rect x="769" y="612.6" width="212" height="66.9"/></clipPath>
<g clip-path="url(#cp12)">
<rect x="768" y="611.6" width="214" height="68.9" fill="#000" stroke="none" stroke-width="1"/>
<ellipse cx="803.5" cy="644.67" rx="48" ry="36" fill="#06063c" filter="url(#b8)" opacity="0.95"/>
<ellipse cx="950.17" cy="639.17" rx="34" ry="24" fill="#0a0840" filter="url(#b8)" opacity="0.55"/>
<g opacity="0.22"><rect x="825" y="612" width="157" height="68" filter="url(#nzR)"/></g>
<ellipse cx="889.67" cy="628.17" rx="18" ry="13" fill="#420505" filter="url(#b5)" opacity="0.7"/>
<ellipse cx="968.5" cy="657.5" rx="13" ry="16" fill="#4a0606" filter="url(#b5)" opacity="0.8"/>
<ellipse cx="941" cy="669.42" rx="14" ry="8" fill="#3a0404" filter="url(#b5)" opacity="0.7"/>
<ellipse cx="814.5" cy="670.33" rx="14" ry="7" fill="#3a0428" filter="url(#b5)" opacity="0.6"/>
<ellipse cx="799.83" cy="628.17" rx="31.17" ry="14.67" fill="#00004a" filter="url(#b8)" opacity="0.9"/>
<ellipse cx="797.08" cy="656.03" rx="30.25" ry="22.37" fill="#2006e8" filter="url(#b5)"/>
<ellipse cx="797.08" cy="656.03" rx="24.75" ry="17.97" fill="#3410ff" filter="url(#b3)"/>
<path d="M814.5 642.83C816.79 639.53 821.53 648.33 825.5 650.53C829.47 652.73 834.36 654.57 838.33 656.03C842.31 657.5 847.5 658.29 849.33 659.33C851.17 660.37 851.78 661.9 849.33 662.27C846.89 662.63 839.56 661.26 834.67 661.53C829.78 661.81 823.82 662.45 820 663.92C816.18 665.38 812.67 673.85 811.75 670.33C810.83 666.82 812.21 646.13 814.5 642.83Z" fill="#2a10f4" filter="url(#b2)"/>
<ellipse cx="795.25" cy="658.42" rx="17.97" ry="13.93" fill="#f018e8" filter="url(#b3)"/>
<ellipse cx="792.5" cy="660.25" rx="11" ry="8.25" fill="#ff28f4" filter="url(#b2)"/>
<ellipse cx="848.42" cy="614.97" rx="16.5" ry="8.07" fill="#3c16dc" filter="url(#b3)"/>
<ellipse cx="845.67" cy="613.13" rx="6.6" ry="3.3" fill="#c020e0" filter="url(#b2)" opacity="0.85"/>
<path d="M820 653.83C822.44 654.51 830.08 656.8 834.67 657.87C839.25 658.94 840.78 659.39 847.5 660.25C854.22 661.11 865.83 662.85 875 663C884.17 663.15 894.86 662.54 902.5 661.17C910.14 659.79 915.95 657.35 920.83 654.75C925.72 652.15 930 647.11 931.83 645.58" fill="none" stroke="#2a14f0" stroke-width="4" filter="url(#b1)"/>
<path d="M820 653.83C822.44 654.51 830.08 656.8 834.67 657.87C839.25 658.94 840.78 659.39 847.5 660.25C854.22 661.11 865.83 662.85 875 663C884.17 663.15 894.86 662.54 902.5 661.17C910.14 659.79 915.95 657.35 920.83 654.75C925.72 652.15 930 647.11 931.83 645.58" fill="none" stroke="#3c22ff" stroke-width="2.2" filter="url(#b05)"/>
<ellipse cx="872.25" cy="662.63" rx="2.02" ry="2.02" fill="#ff20d0" filter="url(#b05)"/>
<ellipse cx="891.5" cy="662.27" rx="1.83" ry="1.83" fill="#ff20d0" filter="url(#b05)"/>
<ellipse cx="886" cy="662.45" rx="1.1" ry="1.1" fill="#ff20d0" filter="url(#b05)"/>
<ellipse cx="916.8" cy="656.03" rx="1.65" ry="1.65" fill="#ff20d0" filter="url(#b05)"/>
<ellipse cx="855.75" cy="660.8" rx="1.1" ry="1.1" fill="#ff20d0" filter="url(#b05)"/>
<ellipse cx="900.67" cy="661.17" rx="0.92" ry="0.92" fill="#ff20d0" filter="url(#b05)"/>
<ellipse cx="925.42" cy="651.08" rx="1.1" ry="1.1" fill="#ff20d0" filter="url(#b05)"/>
<ellipse cx="944.67" cy="640.08" rx="11.73" ry="11.73" fill="#4620f4" filter="url(#b2)"/>
<ellipse cx="950.17" cy="650.17" rx="9.53" ry="9.53" fill="#4620f4" filter="url(#b2)"/>
<ellipse cx="966.67" cy="624.5" rx="9.9" ry="9.9" fill="#4620f4" filter="url(#b2)"/>
<ellipse cx="959.33" cy="631.83" rx="7.7" ry="7.7" fill="#4620f4" filter="url(#b2)"/>
<ellipse cx="935.5" cy="644.67" rx="7.33" ry="7.33" fill="#4620f4" filter="url(#b2)"/>
<ellipse cx="934.58" cy="645.58" rx="3.67" ry="3.67" fill="#ff20f0" filter="url(#b1)"/>
<ellipse cx="947.42" cy="639.17" rx="3.3" ry="3.3" fill="#ff20f0" filter="url(#b1)"/>
<ellipse cx="953.83" cy="634.58" rx="2.2" ry="2.2" fill="#ff20f0" filter="url(#b1)"/>
<ellipse cx="948.33" cy="650.17" rx="3.3" ry="3.3" fill="#ff20f0" filter="url(#b1)"/>
<ellipse cx="967.59" cy="625.42" rx="1.47" ry="1.47" fill="#ff20f0" filter="url(#b1)"/>
<ellipse cx="941" cy="641.92" rx="1.83" ry="1.83" fill="#ff20f0" filter="url(#b1)"/>
<path d="M842 619C841.39 621.14 840.17 627.56 838.33 631.83C836.5 636.11 832.83 642.07 831 644.67C829.17 647.26 827.94 646.96 827.33 647.42" fill="none" stroke="#902040" stroke-width="0.8" opacity="0.8"/>
<path d="M869.5 657.13L859.42 652.92L864.21 651.7L865.47 646.87Z" fill="#f2dc3c"/>
<path d="M886.92 657.13L876.83 652.92L881.97 651.7L883.8 646.87Z" fill="#f2dc3c"/>
<path d="M910.2 651.63L900.3 647.42L905.32 646.2L907.08 641.37Z" fill="#f2dc3c"/>
<rect x="963.4" y="674.9" width="14.3" height="3.7" fill="#fff" stroke="none" stroke-width="1"/>
</g>
<clipPath id="cp13"><rect x="1019.2" y="618.7" width="103.5" height="103.1"/></clipPath>
<g clip-path="url(#cp13)">
<rect x="1018.2" y="617.7" width="105.5" height="105.1" fill="#000" stroke="none" stroke-width="1"/>
<g filter="url(#b1)">
<path d="M1047.21 662.25C1048.84 661.19 1051.96 660.53 1054.33 660.66C1056.71 660.8 1060.4 661.19 1061.46 663.04C1062.51 664.89 1061.32 668.98 1060.66 671.75C1060.01 674.52 1058.95 677.82 1057.5 679.66C1056.05 681.51 1053.59 682.44 1051.96 682.83C1050.32 683.23 1048.74 683.62 1047.68 682.04C1046.63 680.46 1046.15 675.84 1045.62 673.33C1045.1 670.82 1044.25 668.85 1044.52 667C1044.78 665.15 1045.57 663.3 1047.21 662.25Z" fill="#14ee14"/>
<ellipse cx="1051.96" cy="656.23" rx="4.75" ry="4.12" fill="#14ee14"/>
<path d="M1075.71 670.96C1076.23 669.64 1079 668.05 1081.25 667C1083.49 665.94 1086.26 664.76 1089.16 664.62C1092.07 664.49 1096.16 665.15 1098.66 666.21C1101.17 667.26 1103.41 668.98 1104.21 670.96C1105 672.94 1104.34 676.23 1103.41 678.08C1102.49 679.93 1100.77 681.78 1098.66 682.04C1096.55 682.3 1093.12 680.59 1090.75 679.66C1088.37 678.74 1086.53 677.29 1084.41 676.5C1082.3 675.71 1079.53 675.84 1078.08 674.91C1076.63 673.99 1075.18 672.28 1075.71 670.96Z" fill="#14ee14"/>
</g>
<g filter="url(#b05)">
<ellipse cx="1036.12" cy="655.92" rx="2.25" ry="2.25" fill="#14ee14"/>
<ellipse cx="1036.6" cy="663.83" rx="1.93" ry="1.93" fill="#14ee14"/>
<ellipse cx="1061.93" cy="656.39" rx="1.93" ry="1.93" fill="#14ee14"/>
<ellipse cx="1045.62" cy="644.83" rx="1.14" ry="1.14" fill="#14ee14"/>
<ellipse cx="1030.58" cy="660.35" rx="0.98" ry="0.98" fill="#14ee14"/>
<ellipse cx="1112.12" cy="681.25" rx="2.57" ry="2.57" fill="#14ee14"/>
<ellipse cx="1098.66" cy="691.06" rx="2.41" ry="2.41" fill="#14ee14"/>
<ellipse cx="1106.11" cy="697.08" rx="1.77" ry="1.77" fill="#14ee14"/>
<ellipse cx="1069.85" cy="701.51" rx="2.57" ry="2.57" fill="#14ee14"/>
<ellipse cx="1073.01" cy="690.43" rx="1.62" ry="1.62" fill="#14ee14"/>
<ellipse cx="1080.93" cy="689.16" rx="1.3" ry="1.3" fill="#14ee14"/>
<ellipse cx="1087.26" cy="695.18" rx="1.62" ry="1.62" fill="#14ee14"/>
<ellipse cx="1099.46" cy="700.56" rx="1.14" ry="1.14" fill="#14ee14"/>
<ellipse cx="1079.66" cy="682.04" rx="0.98" ry="0.98" fill="#14ee14"/>
<ellipse cx="1092.33" cy="705" rx="0.98" ry="0.98" fill="#14ee14"/>
<ellipse cx="1057.5" cy="648.79" rx="0.98" ry="0.98" fill="#14ee14"/>
<ellipse cx="1084.41" cy="684.41" rx="0.98" ry="0.98" fill="#14ee14"/>
</g>
<path d="M1046.42 636.12C1050.37 635.73 1054.07 635.73 1057.5 636.92C1060.93 638.1 1064.36 640.61 1067 643.25C1069.64 645.89 1070.96 649.98 1073.33 652.75C1075.71 655.52 1077.82 658.61 1081.25 659.87C1084.68 661.14 1089.96 660.43 1093.91 660.35C1097.87 660.27 1101.57 658.55 1105 659.4C1108.43 660.24 1112.12 662.56 1114.5 665.41C1116.87 668.26 1118.45 672.54 1119.25 676.5C1120.04 680.46 1120.04 685.47 1119.25 689.16C1118.45 692.86 1116.87 696.16 1114.5 698.66C1112.12 701.17 1109.22 702.89 1105 704.21C1100.77 705.52 1094.44 705.97 1089.16 706.58C1083.89 707.19 1078.08 707.9 1073.33 707.85C1068.58 707.79 1064.89 707.53 1060.66 706.26C1056.44 705 1051.96 703.1 1048 700.25C1044.04 697.4 1040.35 693.12 1036.92 689.16C1033.49 685.21 1029.79 680.46 1027.42 676.5C1025.04 672.54 1023.51 668.85 1022.67 665.41C1021.82 661.98 1021.82 659.08 1022.35 655.92C1022.88 652.75 1023.93 649.19 1025.83 646.42C1027.73 643.64 1030.32 641.01 1033.75 639.29C1037.18 637.58 1042.46 636.52 1046.42 636.12Z" fill="none" stroke="#eed438" stroke-width="1.9" stroke-dasharray="5.4 3.4"/>
<path d="M1048.6 648.02L1038.58 641.64L1041.13 648.02L1038.04 653.84Z" fill="#f6d636"/>
<path d="M1026.82 674.29L1036.47 666.46L1034.11 673.38L1037.75 677.93Z" fill="#f6d636"/>
<path d="M1060.61 684.19L1069.17 677.63L1067.53 683.64L1070.99 688.56Z" fill="#f6d636"/>
<path d="M1055.15 696.94L1061.52 689.11L1061.7 696.39L1065.71 700.03Z" fill="#f6d636"/>
<path d="M1104.7 693.19L1098.15 683.72L1104.7 686.27L1110.53 683.18Z" fill="#f6d636"/>
<rect x="1096" y="715.3" width="23.2" height="4.7" fill="#fff" stroke="none" stroke-width="1"/>
</g>
<clipPath id="cp14"><rect x="1156" y="618.7" width="41.6" height="39.3"/></clipPath>
<g clip-path="url(#cp14)">
<rect x="1155" y="617.7" width="43.6" height="41.3" fill="#000" stroke="none" stroke-width="1"/>
<g filter="url(#b05)">
<ellipse cx="1170.7" cy="629" rx="5.68" ry="5.68" fill="#14ee14"/>
<ellipse cx="1187.64" cy="644.04" rx="4.1" ry="4.1" fill="#14ee14"/>
<ellipse cx="1173.08" cy="652.43" rx="2.99" ry="2.99" fill="#14ee14"/>
<ellipse cx="1198.41" cy="635.33" rx="1.72" ry="1.72" fill="#14ee14"/>
</g>
</g>
<clipPath id="cp15"><rect x="1156" y="682" width="41.6" height="39.3"/></clipPath>
<g clip-path="url(#cp15)">
<rect x="1155" y="681" width="43.6" height="41.3" fill="#5c0404" stroke="none" stroke-width="1"/>
<g filter="url(#b05)">
<ellipse cx="1170.7" cy="692.01" rx="6" ry="6" fill="#ff1c1c"/>
<ellipse cx="1187.33" cy="705.79" rx="4.57" ry="4.57" fill="#ff1c1c"/>
<ellipse cx="1173.08" cy="714.5" rx="2.67" ry="2.67" fill="#ff1c1c"/>
<ellipse cx="1171.18" cy="700.56" rx="1.88" ry="1.88" fill="#ff1c1c"/>
</g>
<rect x="1183" y="714.5" width="12.6" height="4.5" fill="#fff" stroke="none" stroke-width="1"/>
</g>
</svg>
</body></html>
